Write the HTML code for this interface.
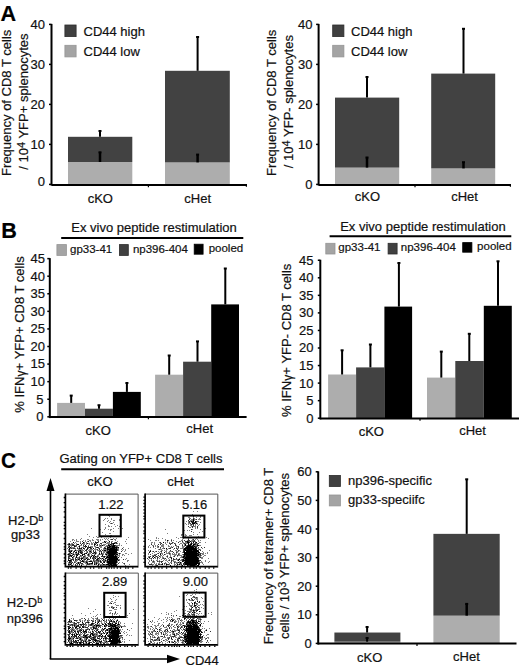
<!DOCTYPE html>
<html><head><meta charset="utf-8"><style>
html,body{margin:0;padding:0;background:#fff;overflow:hidden;}
svg{display:block;}
text{font-family:"Liberation Sans", sans-serif; fill:#111; stroke:#111; stroke-width:0.2px;}
.b{font-weight:bold;fill:#000;}
</style></head><body>
<svg width="520" height="668" viewBox="0 0 520 668">
<defs><filter id="soft" x="-5%" y="-5%" width="110%" height="110%"><feGaussianBlur stdDeviation="0.4"/></filter></defs>
<rect width="520" height="668" fill="#fff"/>
<text x="0.6" y="20.8" font-size="21.6" text-anchor="start" font-weight="bold" class="b">A</text>
<text x="1.2" y="237.6" font-size="21.6" text-anchor="start" font-weight="bold" class="b">B</text>
<text x="1.0" y="467.9" font-size="21.6" text-anchor="start" font-weight="bold" class="b" transform="translate(0.1,0) scale(0.96,1)">C</text>
<rect x="68.00" y="162.00" width="64.30" height="22.40" fill="#adadad"/>
<rect x="68.00" y="136.80" width="64.30" height="25.20" fill="#424242"/>
<line x1="100" y1="136.8" x2="100" y2="131" stroke="#000" stroke-width="2"/>
<line x1="98.5" y1="131" x2="101.5" y2="131" stroke="#000" stroke-width="2"/>
<line x1="100" y1="162.0" x2="100" y2="152.3" stroke="#000" stroke-width="2.5"/>
<line x1="98.5" y1="152.3" x2="101.5" y2="152.3" stroke="#000" stroke-width="2"/>
<rect x="165.00" y="162.40" width="64.80" height="22.00" fill="#adadad"/>
<rect x="165.00" y="70.80" width="64.80" height="91.60" fill="#424242"/>
<line x1="197.6" y1="70.80000000000001" x2="197.6" y2="37" stroke="#000" stroke-width="2"/>
<line x1="196.1" y1="37" x2="199.1" y2="37" stroke="#000" stroke-width="2"/>
<line x1="197.6" y1="162.4" x2="197.6" y2="154.6" stroke="#000" stroke-width="2.5"/>
<line x1="196.1" y1="154.6" x2="199.1" y2="154.6" stroke="#000" stroke-width="2"/>
<line x1="51.5" y1="184.9" x2="247" y2="184.9" stroke="#000" stroke-width="2"/>
<line x1="148.4" y1="184.9" x2="148.4" y2="187.2" stroke="#000" stroke-width="1.2"/>
<line x1="246.4" y1="184.9" x2="246.4" y2="186.8" stroke="#000" stroke-width="1.2"/>
<line x1="51.5" y1="23.9" x2="51.5" y2="185.5" stroke="#000" stroke-width="2"/>
<line x1="49.0" y1="24.400000000000006" x2="51.5" y2="24.400000000000006" stroke="#000" stroke-width="1.5"/>
<text x="45" y="29.000000000000007" font-size="13" text-anchor="end" font-weight="normal" >40</text>
<line x1="49.0" y1="64.4" x2="51.5" y2="64.4" stroke="#000" stroke-width="1.5"/>
<text x="45" y="69.0" font-size="13" text-anchor="end" font-weight="normal" >30</text>
<line x1="49.0" y1="104.4" x2="51.5" y2="104.4" stroke="#000" stroke-width="1.5"/>
<text x="45" y="109.0" font-size="13" text-anchor="end" font-weight="normal" >20</text>
<line x1="49.0" y1="144.4" x2="51.5" y2="144.4" stroke="#000" stroke-width="1.5"/>
<text x="45" y="149.0" font-size="13" text-anchor="end" font-weight="normal" >10</text>
<line x1="49.0" y1="184.4" x2="51.5" y2="184.4" stroke="#000" stroke-width="1.5"/>
<text x="45" y="186.0" font-size="13" text-anchor="end" font-weight="normal" >0</text>
<rect x="64.90" y="25.00" width="11.20" height="11.60" fill="#404040" stroke="#2c2c2c" stroke-width="0.8"/>
<rect x="64.90" y="45.30" width="11.20" height="11.60" fill="#a4a4a4" stroke="#959595" stroke-width="0.8"/>
<text x="83.5" y="36.3" font-size="13" text-anchor="start" font-weight="normal" >CD44 high</text>
<text x="83.5" y="55.8" font-size="13" text-anchor="start" font-weight="normal" >CD44 low</text>
<text x="100.3" y="203" font-size="13" text-anchor="middle" font-weight="normal" >cKO</text>
<text x="197.7" y="203" font-size="13" text-anchor="middle" font-weight="normal" >cHet</text>
<text transform="translate(10.8,102.8) rotate(-90)" font-size="13" text-anchor="middle" >Frequency of CD8 T cells</text>
<text transform="translate(27.6,101.6) rotate(-90)" font-size="13" text-anchor="middle" >/ 10<tspan font-size="11" dy="-2.5">4</tspan><tspan dy="2.5"> YFP+ splenocytes</tspan></text>
<rect x="335.00" y="167.60" width="64.20" height="16.80" fill="#adadad"/>
<rect x="335.00" y="97.60" width="64.20" height="70.00" fill="#424242"/>
<line x1="367" y1="97.60000000000001" x2="367" y2="77" stroke="#000" stroke-width="2"/>
<line x1="365.5" y1="77" x2="368.5" y2="77" stroke="#000" stroke-width="2"/>
<line x1="367" y1="167.6" x2="367" y2="157.5" stroke="#000" stroke-width="2.5"/>
<line x1="365.5" y1="157.5" x2="368.5" y2="157.5" stroke="#000" stroke-width="2"/>
<rect x="431.20" y="168.40" width="64.00" height="16.00" fill="#adadad"/>
<rect x="431.20" y="73.60" width="64.00" height="94.80" fill="#424242"/>
<line x1="463.5" y1="73.60000000000001" x2="463.5" y2="28.8" stroke="#000" stroke-width="2"/>
<line x1="462.0" y1="28.8" x2="465.0" y2="28.8" stroke="#000" stroke-width="2"/>
<line x1="463.5" y1="168.4" x2="463.5" y2="162.2" stroke="#000" stroke-width="2.5"/>
<line x1="462.0" y1="162.2" x2="465.0" y2="162.2" stroke="#000" stroke-width="2"/>
<line x1="318.6" y1="184.9" x2="511" y2="184.9" stroke="#000" stroke-width="2"/>
<line x1="415" y1="184.9" x2="415" y2="187.2" stroke="#000" stroke-width="1.2"/>
<line x1="510.4" y1="184.9" x2="510.4" y2="186.8" stroke="#000" stroke-width="1.2"/>
<line x1="318.6" y1="23.9" x2="318.6" y2="185.5" stroke="#000" stroke-width="2"/>
<line x1="316.1" y1="24.400000000000006" x2="318.6" y2="24.400000000000006" stroke="#000" stroke-width="1.5"/>
<text x="312.5" y="29.000000000000007" font-size="13" text-anchor="end" font-weight="normal" >40</text>
<line x1="316.1" y1="64.4" x2="318.6" y2="64.4" stroke="#000" stroke-width="1.5"/>
<text x="312.5" y="69.0" font-size="13" text-anchor="end" font-weight="normal" >30</text>
<line x1="316.1" y1="104.4" x2="318.6" y2="104.4" stroke="#000" stroke-width="1.5"/>
<text x="312.5" y="109.0" font-size="13" text-anchor="end" font-weight="normal" >20</text>
<line x1="316.1" y1="144.4" x2="318.6" y2="144.4" stroke="#000" stroke-width="1.5"/>
<text x="312.5" y="149.0" font-size="13" text-anchor="end" font-weight="normal" >10</text>
<line x1="316.1" y1="184.4" x2="318.6" y2="184.4" stroke="#000" stroke-width="1.5"/>
<text x="312.5" y="189.0" font-size="13" text-anchor="end" font-weight="normal" >0</text>
<rect x="332.70" y="25.00" width="11.20" height="11.60" fill="#404040" stroke="#2c2c2c" stroke-width="0.8"/>
<rect x="332.70" y="45.30" width="11.20" height="11.60" fill="#a4a4a4" stroke="#959595" stroke-width="0.8"/>
<text x="351" y="36.3" font-size="13" text-anchor="start" font-weight="normal" >CD44 high</text>
<text x="351" y="55.8" font-size="13" text-anchor="start" font-weight="normal" >CD44 low</text>
<text x="367.5" y="201.3" font-size="13" text-anchor="middle" font-weight="normal" >cKO</text>
<text x="464.6" y="201.2" font-size="13" text-anchor="middle" font-weight="normal" >cHet</text>
<text transform="translate(276.4,102.8) rotate(-90)" font-size="13" text-anchor="middle" >Frequency of CD8 T cells</text>
<text transform="translate(292.6,101.6) rotate(-90)" font-size="13" text-anchor="middle" >/ 10<tspan font-size="11" dy="-2.5">4</tspan><tspan dy="2.5"> YFP- splenocytes</tspan></text>
<rect x="57.10" y="402.90" width="27.90" height="13.90" fill="#adadad"/>
<line x1="71.2" y1="402.9" x2="71.2" y2="395.6" stroke="#000" stroke-width="2"/>
<line x1="69.7" y1="395.6" x2="72.7" y2="395.6" stroke="#000" stroke-width="2"/>
<rect x="85.00" y="408.70" width="27.90" height="8.10" fill="#424242"/>
<line x1="99" y1="408.7" x2="99" y2="405.2" stroke="#000" stroke-width="2"/>
<line x1="97.5" y1="405.2" x2="100.5" y2="405.2" stroke="#000" stroke-width="2"/>
<rect x="112.90" y="391.90" width="27.90" height="24.90" fill="#000"/>
<line x1="126.9" y1="391.9" x2="126.9" y2="383" stroke="#000" stroke-width="2"/>
<line x1="125.4" y1="383" x2="128.4" y2="383" stroke="#000" stroke-width="2"/>
<rect x="155.10" y="374.70" width="28.00" height="42.10" fill="#adadad"/>
<line x1="169.2" y1="374.7" x2="169.2" y2="355.5" stroke="#000" stroke-width="2"/>
<line x1="167.7" y1="355.5" x2="170.7" y2="355.5" stroke="#000" stroke-width="2"/>
<rect x="183.10" y="361.70" width="28.10" height="55.10" fill="#424242"/>
<line x1="197.5" y1="361.7" x2="197.5" y2="341.4" stroke="#000" stroke-width="2"/>
<line x1="196.0" y1="341.4" x2="199.0" y2="341.4" stroke="#000" stroke-width="2"/>
<rect x="211.20" y="304.40" width="27.80" height="112.40" fill="#000"/>
<line x1="225.3" y1="304.4" x2="225.3" y2="268.5" stroke="#000" stroke-width="2"/>
<line x1="223.8" y1="268.5" x2="226.8" y2="268.5" stroke="#000" stroke-width="2"/>
<line x1="49.8" y1="417.1" x2="246.6" y2="417.1" stroke="#000" stroke-width="2"/>
<line x1="148.4" y1="416.8" x2="148.4" y2="419.3" stroke="#000" stroke-width="1.2"/>
<line x1="49.8" y1="258.125" x2="49.8" y2="418.1" stroke="#000" stroke-width="2"/>
<line x1="47.3" y1="258.625" x2="49.8" y2="258.625" stroke="#000" stroke-width="1.5"/>
<text x="45" y="263.025" font-size="13" text-anchor="end" font-weight="normal" >45</text>
<line x1="47.3" y1="276.20000000000005" x2="49.8" y2="276.20000000000005" stroke="#000" stroke-width="1.5"/>
<text x="45" y="280.6" font-size="13" text-anchor="end" font-weight="normal" >40</text>
<line x1="47.3" y1="293.775" x2="49.8" y2="293.775" stroke="#000" stroke-width="1.5"/>
<text x="45" y="298.17499999999995" font-size="13" text-anchor="end" font-weight="normal" >35</text>
<line x1="47.3" y1="311.35" x2="49.8" y2="311.35" stroke="#000" stroke-width="1.5"/>
<text x="45" y="315.75" font-size="13" text-anchor="end" font-weight="normal" >30</text>
<line x1="47.3" y1="328.925" x2="49.8" y2="328.925" stroke="#000" stroke-width="1.5"/>
<text x="45" y="333.325" font-size="13" text-anchor="end" font-weight="normal" >25</text>
<line x1="47.3" y1="346.5" x2="49.8" y2="346.5" stroke="#000" stroke-width="1.5"/>
<text x="45" y="350.9" font-size="13" text-anchor="end" font-weight="normal" >20</text>
<line x1="47.3" y1="364.075" x2="49.8" y2="364.075" stroke="#000" stroke-width="1.5"/>
<text x="45" y="368.47499999999997" font-size="13" text-anchor="end" font-weight="normal" >15</text>
<line x1="47.3" y1="381.65000000000003" x2="49.8" y2="381.65000000000003" stroke="#000" stroke-width="1.5"/>
<text x="45" y="386.05" font-size="13" text-anchor="end" font-weight="normal" >10</text>
<line x1="47.3" y1="399.225" x2="49.8" y2="399.225" stroke="#000" stroke-width="1.5"/>
<text x="43.5" y="403.625" font-size="13" text-anchor="end" font-weight="normal" >5</text>
<line x1="47.3" y1="416.8" x2="49.8" y2="416.8" stroke="#000" stroke-width="1.5"/>
<text x="43.5" y="421.2" font-size="13" text-anchor="end" font-weight="normal" >0</text>
<text x="71.3" y="232.1" font-size="13" text-anchor="start" font-weight="normal" >Ex vivo peptide restimulation</text>
<line x1="61.2" y1="238" x2="243.3" y2="238" stroke="#000" stroke-width="2"/>
<rect x="56.90" y="244.60" width="9.50" height="10.80" fill="#a4a4a4" stroke="#959595" stroke-width="0.8"/>
<text x="70" y="252.8" font-size="11.5" text-anchor="start" font-weight="normal" >gp33-41</text>
<rect x="119.40" y="244.60" width="8.90" height="10.80" fill="#404040" stroke="#2c2c2c" stroke-width="0.8"/>
<text x="132.9" y="252.8" font-size="11.5" text-anchor="start" font-weight="normal" >np396-404</text>
<rect x="194.20" y="244.20" width="8.90" height="10.00" fill="#000" stroke="#000" stroke-width="0.8"/>
<text x="208.7" y="252.0" font-size="11.5" text-anchor="start" font-weight="normal" >pooled</text>
<text x="98.2" y="434.8" font-size="13" text-anchor="middle" font-weight="normal" >cKO</text>
<text x="199.7" y="432.6" font-size="13" text-anchor="middle" font-weight="normal" >cHet</text>
<text transform="translate(24.3,334.4) rotate(-90)" font-size="13" text-anchor="middle" >% IFN<tspan font-size="12" dy="0.5">γ</tspan><tspan dy="-0.5">+ YFP+ CD8 T cells</tspan></text>
<rect x="328.10" y="374.50" width="28.00" height="43.70" fill="#adadad"/>
<line x1="342.1" y1="374.5" x2="342.1" y2="350.3" stroke="#000" stroke-width="2"/>
<line x1="340.6" y1="350.3" x2="343.6" y2="350.3" stroke="#000" stroke-width="2"/>
<rect x="356.10" y="367.40" width="28.30" height="50.80" fill="#424242"/>
<line x1="370.4" y1="367.4" x2="370.4" y2="344.5" stroke="#000" stroke-width="2"/>
<line x1="368.9" y1="344.5" x2="371.9" y2="344.5" stroke="#000" stroke-width="2"/>
<rect x="384.40" y="306.60" width="27.70" height="111.60" fill="#000"/>
<line x1="398.9" y1="306.6" x2="398.9" y2="263" stroke="#000" stroke-width="2"/>
<line x1="397.4" y1="263" x2="400.4" y2="263" stroke="#000" stroke-width="2"/>
<rect x="427.00" y="377.60" width="28.30" height="40.60" fill="#adadad"/>
<line x1="441.3" y1="377.6" x2="441.3" y2="351.6" stroke="#000" stroke-width="2"/>
<line x1="439.8" y1="351.6" x2="442.8" y2="351.6" stroke="#000" stroke-width="2"/>
<rect x="455.30" y="361.00" width="28.50" height="57.20" fill="#424242"/>
<line x1="469.3" y1="361.0" x2="469.3" y2="333.8" stroke="#000" stroke-width="2"/>
<line x1="467.8" y1="333.8" x2="470.8" y2="333.8" stroke="#000" stroke-width="2"/>
<rect x="483.80" y="305.80" width="28.00" height="112.40" fill="#000"/>
<line x1="498" y1="305.8" x2="498" y2="261.3" stroke="#000" stroke-width="2"/>
<line x1="496.5" y1="261.3" x2="499.5" y2="261.3" stroke="#000" stroke-width="2"/>
<line x1="320.3" y1="418.5" x2="519" y2="418.5" stroke="#000" stroke-width="2"/>
<line x1="420" y1="418.2" x2="420" y2="420.7" stroke="#000" stroke-width="1.2"/>
<line x1="320.3" y1="259.75" x2="320.3" y2="419.5" stroke="#000" stroke-width="2"/>
<line x1="317.8" y1="260.25" x2="320.3" y2="260.25" stroke="#000" stroke-width="1.5"/>
<text x="313.5" y="264.65" font-size="13" text-anchor="end" font-weight="normal" >45</text>
<line x1="317.8" y1="277.8" x2="320.3" y2="277.8" stroke="#000" stroke-width="1.5"/>
<text x="313.5" y="282.2" font-size="13" text-anchor="end" font-weight="normal" >40</text>
<line x1="317.8" y1="295.35" x2="320.3" y2="295.35" stroke="#000" stroke-width="1.5"/>
<text x="313.5" y="299.75" font-size="13" text-anchor="end" font-weight="normal" >35</text>
<line x1="317.8" y1="312.9" x2="320.3" y2="312.9" stroke="#000" stroke-width="1.5"/>
<text x="313.5" y="317.29999999999995" font-size="13" text-anchor="end" font-weight="normal" >30</text>
<line x1="317.8" y1="330.45" x2="320.3" y2="330.45" stroke="#000" stroke-width="1.5"/>
<text x="313.5" y="334.84999999999997" font-size="13" text-anchor="end" font-weight="normal" >25</text>
<line x1="317.8" y1="348.0" x2="320.3" y2="348.0" stroke="#000" stroke-width="1.5"/>
<text x="313.5" y="352.4" font-size="13" text-anchor="end" font-weight="normal" >20</text>
<line x1="317.8" y1="365.55" x2="320.3" y2="365.55" stroke="#000" stroke-width="1.5"/>
<text x="313.5" y="369.95" font-size="13" text-anchor="end" font-weight="normal" >15</text>
<line x1="317.8" y1="383.1" x2="320.3" y2="383.1" stroke="#000" stroke-width="1.5"/>
<text x="313.5" y="387.5" font-size="13" text-anchor="end" font-weight="normal" >10</text>
<line x1="317.8" y1="400.65" x2="320.3" y2="400.65" stroke="#000" stroke-width="1.5"/>
<text x="313.5" y="405.04999999999995" font-size="13" text-anchor="end" font-weight="normal" >5</text>
<line x1="317.8" y1="418.2" x2="320.3" y2="418.2" stroke="#000" stroke-width="1.5"/>
<text x="313.5" y="422.59999999999997" font-size="13" text-anchor="end" font-weight="normal" >0</text>
<text x="340.2" y="230.8" font-size="13" text-anchor="start" font-weight="normal" >Ex vivo peptide restimulation</text>
<line x1="329.6" y1="236.2" x2="511.3" y2="236.2" stroke="#000" stroke-width="2"/>
<rect x="325.80" y="243.30" width="9.20" height="10.70" fill="#a4a4a4" stroke="#959595" stroke-width="0.8"/>
<text x="338.3" y="251.45000000000002" font-size="11.5" text-anchor="start" font-weight="normal" >gp33-41</text>
<rect x="388.10" y="243.30" width="9.00" height="10.70" fill="#404040" stroke="#2c2c2c" stroke-width="0.8"/>
<text x="400.8" y="251.45000000000002" font-size="11.5" text-anchor="start" font-weight="normal" >np396-404</text>
<rect x="462.70" y="242.60" width="9.20" height="9.60" fill="#000" stroke="#000" stroke-width="0.8"/>
<text x="477.1" y="250.2" font-size="11.5" text-anchor="start" font-weight="normal" >pooled</text>
<text x="371.3" y="435.8" font-size="13" text-anchor="middle" font-weight="normal" >cKO</text>
<text x="472.6" y="435.2" font-size="13" text-anchor="middle" font-weight="normal" >cHet</text>
<text transform="translate(291.3,340.3) rotate(-90)" font-size="13" text-anchor="middle" >% IFN<tspan font-size="12" dy="0.5">γ</tspan><tspan dy="-0.5">+ YFP- CD8 T cells</tspan></text>
<rect x="334.40" y="641.68" width="66.00" height="1.72" fill="#adadad"/>
<rect x="334.40" y="632.53" width="66.00" height="9.15" fill="#424242"/>
<line x1="367.1" y1="632.5319999999999" x2="367.1" y2="627" stroke="#000" stroke-width="2"/>
<line x1="365.6" y1="627" x2="368.6" y2="627" stroke="#000" stroke-width="2"/>
<line x1="367.1" y1="641.684" x2="367.1" y2="638" stroke="#000" stroke-width="2"/>
<line x1="365.6" y1="638" x2="368.6" y2="638" stroke="#000" stroke-width="2"/>
<rect x="433.40" y="615.66" width="66.30" height="27.74" fill="#adadad"/>
<rect x="433.40" y="533.86" width="66.30" height="81.80" fill="#424242"/>
<line x1="466.7" y1="533.862" x2="466.7" y2="479.3" stroke="#000" stroke-width="2"/>
<line x1="465.2" y1="479.3" x2="468.2" y2="479.3" stroke="#000" stroke-width="2"/>
<line x1="466.7" y1="615.658" x2="466.7" y2="603.9" stroke="#000" stroke-width="2.5"/>
<line x1="465.2" y1="603.9" x2="468.2" y2="603.9" stroke="#000" stroke-width="2"/>
<line x1="318.2" y1="643.6" x2="516.5" y2="643.6" stroke="#000" stroke-width="2"/>
<line x1="417" y1="643.6" x2="417" y2="646" stroke="#000" stroke-width="1.2"/>
<line x1="318.2" y1="471.29999999999995" x2="318.2" y2="644.6" stroke="#000" stroke-width="2"/>
<line x1="315.7" y1="471.79999999999995" x2="318.2" y2="471.79999999999995" stroke="#000" stroke-width="1.5"/>
<text x="311.8" y="476.4" font-size="13" text-anchor="end" font-weight="normal" >60</text>
<line x1="315.7" y1="500.4" x2="318.2" y2="500.4" stroke="#000" stroke-width="1.5"/>
<text x="311.8" y="505.0" font-size="13" text-anchor="end" font-weight="normal" >50</text>
<line x1="315.7" y1="529.0" x2="318.2" y2="529.0" stroke="#000" stroke-width="1.5"/>
<text x="311.8" y="533.6" font-size="13" text-anchor="end" font-weight="normal" >40</text>
<line x1="315.7" y1="557.6" x2="318.2" y2="557.6" stroke="#000" stroke-width="1.5"/>
<text x="311.8" y="562.2" font-size="13" text-anchor="end" font-weight="normal" >30</text>
<line x1="315.7" y1="586.1999999999999" x2="318.2" y2="586.1999999999999" stroke="#000" stroke-width="1.5"/>
<text x="311.8" y="590.8" font-size="13" text-anchor="end" font-weight="normal" >20</text>
<line x1="315.7" y1="614.8" x2="318.2" y2="614.8" stroke="#000" stroke-width="1.5"/>
<text x="311.8" y="619.4" font-size="13" text-anchor="end" font-weight="normal" >10</text>
<line x1="315.7" y1="643.4" x2="318.2" y2="643.4" stroke="#000" stroke-width="1.5"/>
<text x="311.8" y="648.0" font-size="13" text-anchor="end" font-weight="normal" >0</text>
<rect x="329.30" y="475.40" width="11.10" height="11.10" fill="#404040" stroke="#2c2c2c" stroke-width="0.8"/>
<rect x="329.30" y="495.00" width="11.10" height="10.90" fill="#a4a4a4" stroke="#959595" stroke-width="0.8"/>
<text x="348.1" y="485.3" font-size="13" text-anchor="start" font-weight="normal" >np396-specific</text>
<text x="348.1" y="503.8" font-size="13" text-anchor="start" font-weight="normal" >gp33-speciifc</text>
<text x="369.7" y="662.2" font-size="13" text-anchor="middle" font-weight="normal" >cKO</text>
<text x="466.4" y="661" font-size="13" text-anchor="middle" font-weight="normal" >cHet</text>
<text transform="translate(272.5,556) rotate(-90)" font-size="13" text-anchor="middle" >Frequency of tetramer+ CD8 T</text>
<text transform="translate(288.8,556) rotate(-90)" font-size="13" text-anchor="middle" >cells / 10<tspan font-size="11" dy="-2.5">3</tspan><tspan dy="2.5"> YFP+ splenocytes</tspan></text>
<text x="59.5" y="462.9" font-size="13" text-anchor="start" font-weight="normal" >Gating on YFP+ CD8 T cells</text>
<line x1="61.2" y1="469.3" x2="224" y2="469.3" stroke="#000" stroke-width="2"/>
<text x="100" y="485.9" font-size="13" text-anchor="middle" font-weight="normal" >cKO</text>
<text x="180.6" y="486" font-size="13" text-anchor="middle" font-weight="normal" >cHet</text>
<line x1="50.5" y1="489" x2="50.5" y2="659" stroke="#000" stroke-width="1.6"/>
<path d="M50.5,478 L46.5,491 L54.5,491 Z" fill="#000"/>
<line x1="49.7" y1="659" x2="169" y2="659" stroke="#000" stroke-width="1.6"/>
<path d="M180,659 L167,654.8 L167,663.2 Z" fill="#000"/>
<text x="185.6" y="664.6" font-size="13" text-anchor="start" font-weight="normal" >CD44</text>
<text x="8" y="524.5" font-size="13" text-anchor="start" font-weight="normal" >H2-D<tspan font-size="9" dy="-4">b</tspan></text>
<text x="11" y="539.4" font-size="13" text-anchor="start" font-weight="normal" >gp33</text>
<text x="6.8" y="607.3" font-size="13" text-anchor="start" font-weight="normal" >H2-D<tspan font-size="9" dy="-4">b</tspan></text>
<text x="6.8" y="622.9" font-size="13" text-anchor="start" font-weight="normal" >np396</text>
<path d="M65.3,494.1H138.1V567.6" fill="none" stroke="#555" stroke-width="1"/>
<path d="M65.39999999999999,493.6V566.7H138.1" fill="none" stroke="#000" stroke-width="1.7"/>
<path d="M63.7,497.5h1.5 M63.7,502.7h1.5 M63.7,507.3h1.5 M63.7,511.9h1.5 M63.7,517.1h1.5 M63.7,522.3h1.5 M63.7,525.5h1.5 M63.7,528.7h1.5 M63.7,533.9h1.5 M63.7,538.5h1.5 M63.7,543.7h1.5 M63.7,546.9h1.5 M63.7,549.4h1.5 M63.7,554.0h1.5 M63.7,557.8h1.5 M63.7,561.0h1.5 M63.7,563.5h1.5 M68.4,567.2v1.5 M70.9,567.2v1.5 M76.1,567.2v1.5 M80.7,567.2v1.5 M85.3,567.2v1.5 M90.5,567.2v1.5 M93.7,567.2v1.5 M98.9,567.2v1.5 M101.4,567.2v1.5 M106.6,567.2v1.5 M109.1,567.2v1.5 M111.6,567.2v1.5 M114.1,567.2v1.5 M117.3,567.2v1.5 M120.5,567.2v1.5 M125.7,567.2v1.5 M128.2,567.2v1.5 M132.8,567.2v1.5" stroke="#000" stroke-width="1.3" fill="none"/>
<g filter="url(#soft)">
<path d="M109,514h1v1h-1zM108,515h1v1h-1zM109,516h1v1h-1zM105,518h1v1h-1zM107,518h1v1h-1zM111,518h1v1h-1zM104,519h1v1h-1zM111,519h1v1h-1zM119,519h1v1h-1zM103,520h1v1h-1zM108,520h1v1h-1zM113,520h1v1h-1zM114,520h1v1h-1zM119,520h1v1h-1zM107,521h1v1h-1zM110,521h1v1h-1zM109,522h1v1h-1zM113,522h1v1h-1zM110,523h1v1h-1zM112,523h1v1h-1zM105,524h1v1h-1zM114,524h1v1h-1zM108,525h1v1h-1zM117,525h1v1h-1zM108,526h1v1h-1zM109,526h1v1h-1zM111,526h1v1h-1zM115,526h1v1h-1zM119,526h1v1h-1zM105,527h1v1h-1zM91,528h1v1h-1zM105,528h1v1h-1zM113,528h1v1h-1zM118,528h1v1h-1zM122,528h1v1h-1zM100,529h1v1h-1zM104,529h1v1h-1zM108,529h1v1h-1zM110,529h1v1h-1zM111,529h1v1h-1zM110,530h1v1h-1zM113,531h1v1h-1zM102,532h1v1h-1zM109,533h1v1h-1zM110,533h1v1h-1zM87,534h1v1h-1zM105,534h1v1h-1zM110,535h1v1h-1zM111,535h1v1h-1zM89,536h1v1h-1zM96,536h1v1h-1zM109,536h1v1h-1zM93,537h1v1h-1zM97,537h1v1h-1zM98,537h1v1h-1zM101,537h1v1h-1zM110,537h1v1h-1zM128,537h1v1h-1zM81,538h1v1h-1zM104,538h1v1h-1zM106,538h1v1h-1zM108,538h1v1h-1zM113,538h1v1h-1zM116,538h1v1h-1zM72,539h1v1h-1zM73,539h1v1h-1zM76,539h1v1h-1zM80,539h1v1h-1zM87,539h1v1h-1zM88,539h1v1h-1zM92,539h1v1h-1zM96,539h1v1h-1zM97,539h1v1h-1zM98,539h1v1h-1zM100,539h1v1h-1zM102,539h1v1h-1zM105,539h1v1h-1zM107,539h1v1h-1zM110,539h1v1h-1zM114,539h1v1h-1zM115,539h1v1h-1zM126,539h1v1h-1zM72,540h1v1h-1zM74,540h1v1h-1zM76,540h1v1h-1zM83,540h1v1h-1zM85,540h1v1h-1zM89,540h1v1h-1zM90,540h1v1h-1zM92,540h1v1h-1zM93,540h1v1h-1zM97,540h1v1h-1zM98,540h1v1h-1zM100,540h1v1h-1zM108,540h1v1h-1zM115,540h1v1h-1zM70,541h1v1h-1zM76,541h1v1h-1zM77,541h1v1h-1zM78,541h1v1h-1zM80,541h1v1h-1zM85,541h1v1h-1zM87,541h1v1h-1zM90,541h1v1h-1zM95,541h1v1h-1zM105,541h1v1h-1zM106,541h1v1h-1zM111,541h1v1h-1zM112,541h1v1h-1zM117,541h1v1h-1zM125,541h1v1h-1zM75,542h1v1h-1zM80,542h1v1h-1zM84,542h1v1h-1zM86,542h1v1h-1zM91,542h1v1h-1zM93,542h1v1h-1zM98,542h1v1h-1zM102,542h1v1h-1zM103,542h1v1h-1zM104,542h1v1h-1zM107,542h1v1h-1zM108,542h1v1h-1zM109,542h1v1h-1zM114,542h1v1h-1zM68,543h1v1h-1zM71,543h1v1h-1zM72,543h1v1h-1zM74,543h1v1h-1zM76,543h1v1h-1zM83,543h1v1h-1zM84,543h1v1h-1zM86,543h1v1h-1zM88,543h1v1h-1zM89,543h1v1h-1zM91,543h1v1h-1zM92,543h1v1h-1zM95,543h1v1h-1zM106,543h1v1h-1zM107,543h1v1h-1zM108,543h1v1h-1zM109,543h1v1h-1zM115,543h1v1h-1zM117,543h1v1h-1zM119,543h1v1h-1zM126,543h1v1h-1zM67,544h1v1h-1zM70,544h1v1h-1zM71,544h1v1h-1zM76,544h1v1h-1zM83,544h1v1h-1zM84,544h1v1h-1zM86,544h1v1h-1zM89,544h1v1h-1zM91,544h1v1h-1zM92,544h1v1h-1zM99,544h1v1h-1zM101,544h1v1h-1zM103,544h1v1h-1zM104,544h1v1h-1zM105,544h1v1h-1zM109,544h1v1h-1zM112,544h1v1h-1zM119,544h1v1h-1zM68,545h1v1h-1zM69,545h1v1h-1zM70,545h1v1h-1zM71,545h1v1h-1zM75,545h1v1h-1zM79,545h1v1h-1zM80,545h1v1h-1zM81,545h1v1h-1zM88,545h1v1h-1zM96,545h1v1h-1zM99,545h1v1h-1zM101,545h1v1h-1zM103,545h1v1h-1zM104,545h1v1h-1zM106,545h1v1h-1zM107,545h1v1h-1zM110,545h1v1h-1zM116,545h1v1h-1zM117,545h1v1h-1zM118,545h1v1h-1zM119,545h1v1h-1zM121,545h1v1h-1zM68,546h1v1h-1zM71,546h1v1h-1zM76,546h1v1h-1zM78,546h1v1h-1zM83,546h1v1h-1zM90,546h1v1h-1zM91,546h1v1h-1zM92,546h1v1h-1zM94,546h1v1h-1zM95,546h1v1h-1zM99,546h1v1h-1zM100,546h1v1h-1zM101,546h1v1h-1zM105,546h1v1h-1zM106,546h1v1h-1zM108,546h1v1h-1zM115,546h1v1h-1zM117,546h1v1h-1zM69,547h1v1h-1zM71,547h1v1h-1zM72,547h1v1h-1zM73,547h1v1h-1zM74,547h1v1h-1zM77,547h1v1h-1zM81,547h1v1h-1zM82,547h1v1h-1zM83,547h1v1h-1zM91,547h1v1h-1zM92,547h1v1h-1zM95,547h1v1h-1zM100,547h1v1h-1zM101,547h1v1h-1zM105,547h1v1h-1zM123,547h1v1h-1zM67,548h1v1h-1zM70,548h1v1h-1zM72,548h1v1h-1zM75,548h1v1h-1zM78,548h1v1h-1zM88,548h1v1h-1zM95,548h1v1h-1zM98,548h1v1h-1zM103,548h1v1h-1zM106,548h1v1h-1zM117,548h1v1h-1zM118,548h1v1h-1zM128,548h1v1h-1zM68,549h1v1h-1zM75,549h1v1h-1zM78,549h1v1h-1zM79,549h1v1h-1zM80,549h1v1h-1zM81,549h1v1h-1zM82,549h1v1h-1zM84,549h1v1h-1zM89,549h1v1h-1zM90,549h1v1h-1zM91,549h1v1h-1zM92,549h1v1h-1zM94,549h1v1h-1zM95,549h1v1h-1zM96,549h1v1h-1zM101,549h1v1h-1zM103,549h1v1h-1zM104,549h1v1h-1zM105,549h1v1h-1zM106,549h1v1h-1zM118,549h1v1h-1zM121,549h1v1h-1zM123,549h1v1h-1zM125,549h1v1h-1zM68,550h1v1h-1zM70,550h1v1h-1zM72,550h1v1h-1zM74,550h1v1h-1zM76,550h1v1h-1zM77,550h1v1h-1zM78,550h1v1h-1zM81,550h1v1h-1zM82,550h1v1h-1zM83,550h1v1h-1zM88,550h1v1h-1zM89,550h1v1h-1zM90,550h1v1h-1zM91,550h1v1h-1zM95,550h1v1h-1zM97,550h1v1h-1zM98,550h1v1h-1zM99,550h1v1h-1zM103,550h1v1h-1zM106,550h1v1h-1zM108,550h1v1h-1zM118,550h1v1h-1zM122,550h1v1h-1zM125,550h1v1h-1zM68,551h1v1h-1zM73,551h1v1h-1zM76,551h1v1h-1zM79,551h1v1h-1zM82,551h1v1h-1zM84,551h1v1h-1zM86,551h1v1h-1zM87,551h1v1h-1zM91,551h1v1h-1zM100,551h1v1h-1zM103,551h1v1h-1zM104,551h1v1h-1zM105,551h1v1h-1zM106,551h1v1h-1zM124,551h1v1h-1zM69,552h1v1h-1zM79,552h1v1h-1zM86,552h1v1h-1zM89,552h1v1h-1zM90,552h1v1h-1zM93,552h1v1h-1zM96,552h1v1h-1zM99,552h1v1h-1zM103,552h1v1h-1zM104,552h1v1h-1zM68,553h1v1h-1zM70,553h1v1h-1zM72,553h1v1h-1zM73,553h1v1h-1zM75,553h1v1h-1zM76,553h1v1h-1zM77,553h1v1h-1zM80,553h1v1h-1zM82,553h1v1h-1zM88,553h1v1h-1zM89,553h1v1h-1zM90,553h1v1h-1zM94,553h1v1h-1zM96,553h1v1h-1zM102,553h1v1h-1zM103,553h1v1h-1zM105,553h1v1h-1zM106,553h1v1h-1zM117,553h1v1h-1zM118,553h1v1h-1zM120,553h1v1h-1zM125,553h1v1h-1zM126,553h1v1h-1zM131,553h1v1h-1zM67,554h1v1h-1zM70,554h1v1h-1zM72,554h1v1h-1zM74,554h1v1h-1zM75,554h1v1h-1zM79,554h1v1h-1zM87,554h1v1h-1zM89,554h1v1h-1zM91,554h1v1h-1zM94,554h1v1h-1zM95,554h1v1h-1zM98,554h1v1h-1zM100,554h1v1h-1zM101,554h1v1h-1zM103,554h1v1h-1zM107,554h1v1h-1zM119,554h1v1h-1zM122,554h1v1h-1zM123,554h1v1h-1zM128,554h1v1h-1zM68,555h1v1h-1zM74,555h1v1h-1zM81,555h1v1h-1zM84,555h1v1h-1zM85,555h1v1h-1zM87,555h1v1h-1zM89,555h1v1h-1zM91,555h1v1h-1zM93,555h1v1h-1zM97,555h1v1h-1zM98,555h1v1h-1zM106,555h1v1h-1zM107,555h1v1h-1zM114,555h1v1h-1zM116,555h1v1h-1zM117,555h1v1h-1zM118,555h1v1h-1zM119,555h1v1h-1zM122,555h1v1h-1zM124,555h1v1h-1zM70,556h1v1h-1zM74,556h1v1h-1zM79,556h1v1h-1zM80,556h1v1h-1zM81,556h1v1h-1zM85,556h1v1h-1zM88,556h1v1h-1zM89,556h1v1h-1zM90,556h1v1h-1zM94,556h1v1h-1zM96,556h1v1h-1zM98,556h1v1h-1zM105,556h1v1h-1zM106,556h1v1h-1zM117,556h1v1h-1zM119,556h1v1h-1zM69,557h1v1h-1zM73,557h1v1h-1zM75,557h1v1h-1zM77,557h1v1h-1zM78,557h1v1h-1zM81,557h1v1h-1zM82,557h1v1h-1zM84,557h1v1h-1zM85,557h1v1h-1zM86,557h1v1h-1zM92,557h1v1h-1zM95,557h1v1h-1zM96,557h1v1h-1zM97,557h1v1h-1zM103,557h1v1h-1zM117,557h1v1h-1zM121,557h1v1h-1zM70,558h1v1h-1zM72,558h1v1h-1zM73,558h1v1h-1zM77,558h1v1h-1zM78,558h1v1h-1zM80,558h1v1h-1zM83,558h1v1h-1zM84,558h1v1h-1zM85,558h1v1h-1zM87,558h1v1h-1zM88,558h1v1h-1zM94,558h1v1h-1zM99,558h1v1h-1zM101,558h1v1h-1zM103,558h1v1h-1zM107,558h1v1h-1zM126,558h1v1h-1zM70,559h1v1h-1zM77,559h1v1h-1zM83,559h1v1h-1zM94,559h1v1h-1zM98,559h1v1h-1zM99,559h1v1h-1zM101,559h1v1h-1zM104,559h1v1h-1zM105,559h1v1h-1zM118,559h1v1h-1zM119,559h1v1h-1zM125,559h1v1h-1zM76,560h1v1h-1zM77,560h1v1h-1zM79,560h1v1h-1zM83,560h1v1h-1zM84,560h1v1h-1zM86,560h1v1h-1zM87,560h1v1h-1zM90,560h1v1h-1zM91,560h1v1h-1zM94,560h1v1h-1zM95,560h1v1h-1zM99,560h1v1h-1zM103,560h1v1h-1zM104,560h1v1h-1zM106,560h1v1h-1zM108,560h1v1h-1zM117,560h1v1h-1zM119,560h1v1h-1zM127,560h1v1h-1zM128,560h1v1h-1zM67,561h1v1h-1zM74,561h1v1h-1zM75,561h1v1h-1zM76,561h1v1h-1zM80,561h1v1h-1zM84,561h1v1h-1zM85,561h1v1h-1zM87,561h1v1h-1zM88,561h1v1h-1zM92,561h1v1h-1zM93,561h1v1h-1zM95,561h1v1h-1zM96,561h1v1h-1zM97,561h1v1h-1zM99,561h1v1h-1zM101,561h1v1h-1zM105,561h1v1h-1zM106,561h1v1h-1zM117,561h1v1h-1zM127,561h1v1h-1zM68,562h1v1h-1zM71,562h1v1h-1zM75,562h1v1h-1zM77,562h1v1h-1zM79,562h1v1h-1zM83,562h1v1h-1zM84,562h1v1h-1zM85,562h1v1h-1zM95,562h1v1h-1zM97,562h1v1h-1zM98,562h1v1h-1zM106,562h1v1h-1zM117,562h1v1h-1zM119,562h1v1h-1zM122,562h1v1h-1zM68,563h1v1h-1zM69,563h1v1h-1zM70,563h1v1h-1zM73,563h1v1h-1zM77,563h1v1h-1zM79,563h1v1h-1zM80,563h1v1h-1zM85,563h1v1h-1zM86,563h1v1h-1zM88,563h1v1h-1zM95,563h1v1h-1zM97,563h1v1h-1zM98,563h1v1h-1zM99,563h1v1h-1zM107,563h1v1h-1zM116,563h1v1h-1zM123,563h1v1h-1zM71,564h1v1h-1zM73,564h1v1h-1zM81,564h1v1h-1zM82,564h1v1h-1zM83,564h1v1h-1zM86,564h1v1h-1zM90,564h1v1h-1zM91,564h1v1h-1zM92,564h1v1h-1zM95,564h1v1h-1zM99,564h1v1h-1zM100,564h1v1h-1zM101,564h1v1h-1zM102,564h1v1h-1zM105,564h1v1h-1zM117,564h1v1h-1zM124,564h1v1h-1zM129,564h1v1h-1zM68,565h1v1h-1zM69,565h1v1h-1zM76,565h1v1h-1zM77,565h1v1h-1zM79,565h1v1h-1zM86,565h1v1h-1zM97,565h1v1h-1zM101,565h1v1h-1zM102,565h1v1h-1zM103,565h1v1h-1zM104,565h1v1h-1zM105,565h1v1h-1zM106,565h1v1h-1zM107,565h1v1h-1zM125,565h1v1h-1z" fill="#000" fill-opacity="0.5"/>
<path d="M111,523h1v1h-1zM111,539h1v1h-1zM112,539h1v1h-1zM82,541h1v1h-1zM88,541h1v1h-1zM98,541h1v1h-1zM96,542h1v1h-1zM111,542h1v1h-1zM115,542h1v1h-1zM116,542h1v1h-1zM69,543h1v1h-1zM80,543h1v1h-1zM82,543h1v1h-1zM94,543h1v1h-1zM96,543h1v1h-1zM100,543h1v1h-1zM101,543h1v1h-1zM111,543h1v1h-1zM112,543h1v1h-1zM116,543h1v1h-1zM68,544h1v1h-1zM72,544h1v1h-1zM73,544h1v1h-1zM81,544h1v1h-1zM95,544h1v1h-1zM97,544h1v1h-1zM108,544h1v1h-1zM111,544h1v1h-1zM72,545h1v1h-1zM73,545h1v1h-1zM74,545h1v1h-1zM76,545h1v1h-1zM83,545h1v1h-1zM94,545h1v1h-1zM97,545h1v1h-1zM100,545h1v1h-1zM111,545h1v1h-1zM112,545h1v1h-1zM115,545h1v1h-1zM75,546h1v1h-1zM84,546h1v1h-1zM85,546h1v1h-1zM88,546h1v1h-1zM107,546h1v1h-1zM111,546h1v1h-1zM116,546h1v1h-1zM68,547h1v1h-1zM79,547h1v1h-1zM85,547h1v1h-1zM87,547h1v1h-1zM88,547h1v1h-1zM96,547h1v1h-1zM98,547h1v1h-1zM104,547h1v1h-1zM110,547h1v1h-1zM111,547h1v1h-1zM117,547h1v1h-1zM71,548h1v1h-1zM73,548h1v1h-1zM74,548h1v1h-1zM77,548h1v1h-1zM80,548h1v1h-1zM84,548h1v1h-1zM90,548h1v1h-1zM91,548h1v1h-1zM99,548h1v1h-1zM104,548h1v1h-1zM108,548h1v1h-1zM109,548h1v1h-1zM115,548h1v1h-1zM122,548h1v1h-1zM86,549h1v1h-1zM87,549h1v1h-1zM97,549h1v1h-1zM99,549h1v1h-1zM117,549h1v1h-1zM69,550h1v1h-1zM71,550h1v1h-1zM79,550h1v1h-1zM85,550h1v1h-1zM86,550h1v1h-1zM93,550h1v1h-1zM100,550h1v1h-1zM102,550h1v1h-1zM107,550h1v1h-1zM117,550h1v1h-1zM70,551h1v1h-1zM80,551h1v1h-1zM81,551h1v1h-1zM89,551h1v1h-1zM93,551h1v1h-1zM95,551h1v1h-1zM99,551h1v1h-1zM101,551h1v1h-1zM107,551h1v1h-1zM121,551h1v1h-1zM73,552h1v1h-1zM75,552h1v1h-1zM78,552h1v1h-1zM81,552h1v1h-1zM82,552h1v1h-1zM87,552h1v1h-1zM91,552h1v1h-1zM95,552h1v1h-1zM101,552h1v1h-1zM106,552h1v1h-1zM117,552h1v1h-1zM69,553h1v1h-1zM84,553h1v1h-1zM85,553h1v1h-1zM92,553h1v1h-1zM93,553h1v1h-1zM107,553h1v1h-1zM116,553h1v1h-1zM69,554h1v1h-1zM77,554h1v1h-1zM78,554h1v1h-1zM83,554h1v1h-1zM99,554h1v1h-1zM102,554h1v1h-1zM105,554h1v1h-1zM108,554h1v1h-1zM115,554h1v1h-1zM69,555h1v1h-1zM71,555h1v1h-1zM72,555h1v1h-1zM76,555h1v1h-1zM80,555h1v1h-1zM88,555h1v1h-1zM68,556h1v1h-1zM69,556h1v1h-1zM73,556h1v1h-1zM83,556h1v1h-1zM84,556h1v1h-1zM97,556h1v1h-1zM101,556h1v1h-1zM102,556h1v1h-1zM103,556h1v1h-1zM108,556h1v1h-1zM68,557h1v1h-1zM79,557h1v1h-1zM83,557h1v1h-1zM87,557h1v1h-1zM93,557h1v1h-1zM94,557h1v1h-1zM104,557h1v1h-1zM68,558h1v1h-1zM69,558h1v1h-1zM75,558h1v1h-1zM79,558h1v1h-1zM90,558h1v1h-1zM92,558h1v1h-1zM93,558h1v1h-1zM97,558h1v1h-1zM100,558h1v1h-1zM106,558h1v1h-1zM108,558h1v1h-1zM68,559h1v1h-1zM71,559h1v1h-1zM72,559h1v1h-1zM73,559h1v1h-1zM75,559h1v1h-1zM76,559h1v1h-1zM79,559h1v1h-1zM84,559h1v1h-1zM85,559h1v1h-1zM88,559h1v1h-1zM89,559h1v1h-1zM93,559h1v1h-1zM96,559h1v1h-1zM123,559h1v1h-1zM71,560h1v1h-1zM73,560h1v1h-1zM75,560h1v1h-1zM80,560h1v1h-1zM93,560h1v1h-1zM96,560h1v1h-1zM97,560h1v1h-1zM98,560h1v1h-1zM100,560h1v1h-1zM102,560h1v1h-1zM69,561h1v1h-1zM70,561h1v1h-1zM71,561h1v1h-1zM81,561h1v1h-1zM86,561h1v1h-1zM94,561h1v1h-1zM98,561h1v1h-1zM103,561h1v1h-1zM104,561h1v1h-1zM70,562h1v1h-1zM72,562h1v1h-1zM74,562h1v1h-1zM87,562h1v1h-1zM94,562h1v1h-1zM96,562h1v1h-1zM100,562h1v1h-1zM101,562h1v1h-1zM103,562h1v1h-1zM76,563h1v1h-1zM81,563h1v1h-1zM82,563h1v1h-1zM89,563h1v1h-1zM90,563h1v1h-1zM94,563h1v1h-1zM118,563h1v1h-1zM124,563h1v1h-1zM69,564h1v1h-1zM75,564h1v1h-1zM77,564h1v1h-1zM87,564h1v1h-1zM88,564h1v1h-1zM89,564h1v1h-1zM96,564h1v1h-1zM104,564h1v1h-1zM109,564h1v1h-1zM112,564h1v1h-1zM116,564h1v1h-1zM71,565h1v1h-1zM72,565h1v1h-1zM75,565h1v1h-1zM98,565h1v1h-1zM100,565h1v1h-1zM108,565h1v1h-1zM110,565h1v1h-1z" fill="#000" fill-opacity="0.8"/>
<path d="M104,541h1v1h-1zM109,541h1v1h-1zM73,542h1v1h-1zM83,542h1v1h-1zM95,542h1v1h-1zM97,542h1v1h-1zM105,542h1v1h-1zM87,543h1v1h-1zM113,543h1v1h-1zM114,543h1v1h-1zM69,544h1v1h-1zM77,544h1v1h-1zM78,544h1v1h-1zM94,544h1v1h-1zM110,544h1v1h-1zM113,544h1v1h-1zM85,545h1v1h-1zM102,545h1v1h-1zM108,545h1v1h-1zM109,545h1v1h-1zM113,545h1v1h-1zM114,545h1v1h-1zM69,546h1v1h-1zM74,546h1v1h-1zM79,546h1v1h-1zM86,546h1v1h-1zM109,546h1v1h-1zM110,546h1v1h-1zM112,546h1v1h-1zM113,546h1v1h-1zM114,546h1v1h-1zM70,547h1v1h-1zM89,547h1v1h-1zM90,547h1v1h-1zM97,547h1v1h-1zM107,547h1v1h-1zM108,547h1v1h-1zM109,547h1v1h-1zM112,547h1v1h-1zM113,547h1v1h-1zM114,547h1v1h-1zM115,547h1v1h-1zM116,547h1v1h-1zM118,547h1v1h-1zM69,548h1v1h-1zM79,548h1v1h-1zM81,548h1v1h-1zM83,548h1v1h-1zM87,548h1v1h-1zM93,548h1v1h-1zM105,548h1v1h-1zM107,548h1v1h-1zM110,548h1v1h-1zM111,548h1v1h-1zM112,548h1v1h-1zM113,548h1v1h-1zM114,548h1v1h-1zM116,548h1v1h-1zM69,549h1v1h-1zM107,549h1v1h-1zM108,549h1v1h-1zM109,549h1v1h-1zM110,549h1v1h-1zM111,549h1v1h-1zM112,549h1v1h-1zM113,549h1v1h-1zM114,549h1v1h-1zM115,549h1v1h-1zM116,549h1v1h-1zM75,550h1v1h-1zM80,550h1v1h-1zM104,550h1v1h-1zM105,550h1v1h-1zM109,550h1v1h-1zM110,550h1v1h-1zM111,550h1v1h-1zM112,550h1v1h-1zM113,550h1v1h-1zM114,550h1v1h-1zM115,550h1v1h-1zM116,550h1v1h-1zM69,551h1v1h-1zM71,551h1v1h-1zM74,551h1v1h-1zM78,551h1v1h-1zM90,551h1v1h-1zM108,551h1v1h-1zM109,551h1v1h-1zM110,551h1v1h-1zM111,551h1v1h-1zM112,551h1v1h-1zM113,551h1v1h-1zM114,551h1v1h-1zM115,551h1v1h-1zM116,551h1v1h-1zM70,552h1v1h-1zM76,552h1v1h-1zM80,552h1v1h-1zM94,552h1v1h-1zM107,552h1v1h-1zM108,552h1v1h-1zM109,552h1v1h-1zM110,552h1v1h-1zM111,552h1v1h-1zM112,552h1v1h-1zM113,552h1v1h-1zM114,552h1v1h-1zM115,552h1v1h-1zM116,552h1v1h-1zM71,553h1v1h-1zM78,553h1v1h-1zM81,553h1v1h-1zM86,553h1v1h-1zM95,553h1v1h-1zM99,553h1v1h-1zM101,553h1v1h-1zM108,553h1v1h-1zM109,553h1v1h-1zM110,553h1v1h-1zM111,553h1v1h-1zM112,553h1v1h-1zM113,553h1v1h-1zM114,553h1v1h-1zM115,553h1v1h-1zM119,553h1v1h-1zM68,554h1v1h-1zM73,554h1v1h-1zM76,554h1v1h-1zM82,554h1v1h-1zM84,554h1v1h-1zM88,554h1v1h-1zM106,554h1v1h-1zM109,554h1v1h-1zM110,554h1v1h-1zM111,554h1v1h-1zM112,554h1v1h-1zM113,554h1v1h-1zM114,554h1v1h-1zM116,554h1v1h-1zM117,554h1v1h-1zM70,555h1v1h-1zM77,555h1v1h-1zM82,555h1v1h-1zM92,555h1v1h-1zM94,555h1v1h-1zM102,555h1v1h-1zM108,555h1v1h-1zM109,555h1v1h-1zM110,555h1v1h-1zM111,555h1v1h-1zM112,555h1v1h-1zM113,555h1v1h-1zM115,555h1v1h-1zM71,556h1v1h-1zM76,556h1v1h-1zM91,556h1v1h-1zM93,556h1v1h-1zM95,556h1v1h-1zM104,556h1v1h-1zM107,556h1v1h-1zM109,556h1v1h-1zM110,556h1v1h-1zM111,556h1v1h-1zM112,556h1v1h-1zM113,556h1v1h-1zM114,556h1v1h-1zM115,556h1v1h-1zM116,556h1v1h-1zM72,557h1v1h-1zM76,557h1v1h-1zM90,557h1v1h-1zM99,557h1v1h-1zM106,557h1v1h-1zM107,557h1v1h-1zM108,557h1v1h-1zM109,557h1v1h-1zM110,557h1v1h-1zM111,557h1v1h-1zM112,557h1v1h-1zM113,557h1v1h-1zM114,557h1v1h-1zM115,557h1v1h-1zM116,557h1v1h-1zM118,557h1v1h-1zM81,558h1v1h-1zM82,558h1v1h-1zM86,558h1v1h-1zM95,558h1v1h-1zM98,558h1v1h-1zM102,558h1v1h-1zM105,558h1v1h-1zM109,558h1v1h-1zM110,558h1v1h-1zM111,558h1v1h-1zM112,558h1v1h-1zM113,558h1v1h-1zM114,558h1v1h-1zM115,558h1v1h-1zM116,558h1v1h-1zM117,558h1v1h-1zM78,559h1v1h-1zM81,559h1v1h-1zM87,559h1v1h-1zM97,559h1v1h-1zM103,559h1v1h-1zM107,559h1v1h-1zM108,559h1v1h-1zM109,559h1v1h-1zM110,559h1v1h-1zM111,559h1v1h-1zM112,559h1v1h-1zM113,559h1v1h-1zM114,559h1v1h-1zM115,559h1v1h-1zM116,559h1v1h-1zM117,559h1v1h-1zM68,560h1v1h-1zM69,560h1v1h-1zM70,560h1v1h-1zM82,560h1v1h-1zM105,560h1v1h-1zM107,560h1v1h-1zM109,560h1v1h-1zM110,560h1v1h-1zM111,560h1v1h-1zM112,560h1v1h-1zM113,560h1v1h-1zM114,560h1v1h-1zM115,560h1v1h-1zM116,560h1v1h-1zM118,560h1v1h-1zM82,561h1v1h-1zM83,561h1v1h-1zM89,561h1v1h-1zM90,561h1v1h-1zM91,561h1v1h-1zM100,561h1v1h-1zM107,561h1v1h-1zM108,561h1v1h-1zM109,561h1v1h-1zM110,561h1v1h-1zM111,561h1v1h-1zM112,561h1v1h-1zM113,561h1v1h-1zM114,561h1v1h-1zM115,561h1v1h-1zM116,561h1v1h-1zM69,562h1v1h-1zM78,562h1v1h-1zM80,562h1v1h-1zM86,562h1v1h-1zM92,562h1v1h-1zM104,562h1v1h-1zM107,562h1v1h-1zM108,562h1v1h-1zM109,562h1v1h-1zM110,562h1v1h-1zM111,562h1v1h-1zM112,562h1v1h-1zM113,562h1v1h-1zM114,562h1v1h-1zM115,562h1v1h-1zM116,562h1v1h-1zM71,563h1v1h-1zM78,563h1v1h-1zM87,563h1v1h-1zM91,563h1v1h-1zM92,563h1v1h-1zM96,563h1v1h-1zM102,563h1v1h-1zM108,563h1v1h-1zM109,563h1v1h-1zM110,563h1v1h-1zM111,563h1v1h-1zM112,563h1v1h-1zM113,563h1v1h-1zM114,563h1v1h-1zM115,563h1v1h-1zM68,564h1v1h-1zM70,564h1v1h-1zM79,564h1v1h-1zM94,564h1v1h-1zM98,564h1v1h-1zM103,564h1v1h-1zM106,564h1v1h-1zM107,564h1v1h-1zM108,564h1v1h-1zM110,564h1v1h-1zM111,564h1v1h-1zM113,564h1v1h-1zM114,564h1v1h-1zM115,564h1v1h-1zM81,565h1v1h-1zM109,565h1v1h-1zM111,565h1v1h-1zM112,565h1v1h-1zM113,565h1v1h-1zM114,565h1v1h-1zM115,565h1v1h-1zM116,565h1v1h-1z" fill="#000" fill-opacity="1.0"/>
</g>
<rect x="99.5" y="514.8" width="21.299999999999997" height="21.5" fill="none" stroke="#000" stroke-width="2"/>
<text x="110.95" y="508.49999999999994" font-size="13" text-anchor="middle" font-weight="normal" >1.22</text>
<path d="M65.3,573.1H138.3V645.8" fill="none" stroke="#555" stroke-width="1"/>
<path d="M65.39999999999999,572.6V644.9H138.3" fill="none" stroke="#000" stroke-width="1.7"/>
<path d="M63.7,576.5h1.5 M63.7,581.7h1.5 M63.7,585.5h1.5 M63.7,588.7h1.5 M63.7,593.3h1.5 M63.7,595.8h1.5 M63.7,599.6h1.5 M63.7,604.2h1.5 M63.7,608.0h1.5 M63.7,612.6h1.5 M63.7,617.8h1.5 M63.7,621.0h1.5 M63.7,626.2h1.5 M63.7,628.7h1.5 M63.7,633.9h1.5 M63.7,637.1h1.5 M63.7,641.7h1.5 M67.1,645.4v1.5 M70.3,645.4v1.5 M72.8,645.4v1.5 M78.0,645.4v1.5 M81.2,645.4v1.5 M83.7,645.4v1.5 M88.9,645.4v1.5 M92.7,645.4v1.5 M97.3,645.4v1.5 M99.8,645.4v1.5 M102.3,645.4v1.5 M104.8,645.4v1.5 M110.0,645.4v1.5 M113.2,645.4v1.5 M115.7,645.4v1.5 M120.3,645.4v1.5 M124.9,645.4v1.5 M127.4,645.4v1.5 M132.0,645.4v1.5 M135.2,645.4v1.5" stroke="#000" stroke-width="1.3" fill="none"/>
<g filter="url(#soft)">
<path d="M113,595h1v1h-1zM104,596h1v1h-1zM115,596h1v1h-1zM118,596h1v1h-1zM113,597h1v1h-1zM110,598h1v1h-1zM111,599h1v1h-1zM116,599h1v1h-1zM115,600h1v1h-1zM108,601h1v1h-1zM111,601h1v1h-1zM112,601h1v1h-1zM110,602h1v1h-1zM114,602h1v1h-1zM115,602h1v1h-1zM109,603h1v1h-1zM110,603h1v1h-1zM113,603h1v1h-1zM115,604h1v1h-1zM107,605h1v1h-1zM108,605h1v1h-1zM116,605h1v1h-1zM117,605h1v1h-1zM118,605h1v1h-1zM120,605h1v1h-1zM104,606h1v1h-1zM111,606h1v1h-1zM112,606h1v1h-1zM109,607h1v1h-1zM112,607h1v1h-1zM114,607h1v1h-1zM120,607h1v1h-1zM88,608h1v1h-1zM104,608h1v1h-1zM112,608h1v1h-1zM120,608h1v1h-1zM95,609h1v1h-1zM114,609h1v1h-1zM115,609h1v1h-1zM116,609h1v1h-1zM133,609h1v1h-1zM109,610h1v1h-1zM110,610h1v1h-1zM111,610h1v1h-1zM93,611h1v1h-1zM115,611h1v1h-1zM110,612h1v1h-1zM81,613h1v1h-1zM90,613h1v1h-1zM109,613h1v1h-1zM110,613h1v1h-1zM114,613h1v1h-1zM115,613h1v1h-1zM117,613h1v1h-1zM129,613h1v1h-1zM97,614h1v1h-1zM100,614h1v1h-1zM112,614h1v1h-1zM114,614h1v1h-1zM116,614h1v1h-1zM72,615h1v1h-1zM85,615h1v1h-1zM96,615h1v1h-1zM112,615h1v1h-1zM119,615h1v1h-1zM127,615h1v1h-1zM93,616h1v1h-1zM95,616h1v1h-1zM105,616h1v1h-1zM119,616h1v1h-1zM91,617h1v1h-1zM97,617h1v1h-1zM106,617h1v1h-1zM111,617h1v1h-1zM113,617h1v1h-1zM118,617h1v1h-1zM124,617h1v1h-1zM127,617h1v1h-1zM71,618h1v1h-1zM73,618h1v1h-1zM81,618h1v1h-1zM82,618h1v1h-1zM88,618h1v1h-1zM92,618h1v1h-1zM93,618h1v1h-1zM95,618h1v1h-1zM96,618h1v1h-1zM101,618h1v1h-1zM103,618h1v1h-1zM104,618h1v1h-1zM109,618h1v1h-1zM113,618h1v1h-1zM115,618h1v1h-1zM73,619h1v1h-1zM79,619h1v1h-1zM80,619h1v1h-1zM88,619h1v1h-1zM93,619h1v1h-1zM96,619h1v1h-1zM97,619h1v1h-1zM98,619h1v1h-1zM99,619h1v1h-1zM104,619h1v1h-1zM106,619h1v1h-1zM108,619h1v1h-1zM112,619h1v1h-1zM114,619h1v1h-1zM117,619h1v1h-1zM70,620h1v1h-1zM71,620h1v1h-1zM77,620h1v1h-1zM79,620h1v1h-1zM80,620h1v1h-1zM82,620h1v1h-1zM84,620h1v1h-1zM85,620h1v1h-1zM88,620h1v1h-1zM89,620h1v1h-1zM92,620h1v1h-1zM93,620h1v1h-1zM97,620h1v1h-1zM98,620h1v1h-1zM101,620h1v1h-1zM104,620h1v1h-1zM108,620h1v1h-1zM109,620h1v1h-1zM110,620h1v1h-1zM113,620h1v1h-1zM116,620h1v1h-1zM70,621h1v1h-1zM76,621h1v1h-1zM82,621h1v1h-1zM84,621h1v1h-1zM87,621h1v1h-1zM88,621h1v1h-1zM95,621h1v1h-1zM97,621h1v1h-1zM100,621h1v1h-1zM101,621h1v1h-1zM104,621h1v1h-1zM105,621h1v1h-1zM106,621h1v1h-1zM112,621h1v1h-1zM118,621h1v1h-1zM119,621h1v1h-1zM67,622h1v1h-1zM68,622h1v1h-1zM69,622h1v1h-1zM71,622h1v1h-1zM72,622h1v1h-1zM73,622h1v1h-1zM79,622h1v1h-1zM85,622h1v1h-1zM89,622h1v1h-1zM92,622h1v1h-1zM97,622h1v1h-1zM101,622h1v1h-1zM104,622h1v1h-1zM112,622h1v1h-1zM113,622h1v1h-1zM115,622h1v1h-1zM116,622h1v1h-1zM120,622h1v1h-1zM68,623h1v1h-1zM73,623h1v1h-1zM78,623h1v1h-1zM82,623h1v1h-1zM88,623h1v1h-1zM94,623h1v1h-1zM99,623h1v1h-1zM101,623h1v1h-1zM102,623h1v1h-1zM104,623h1v1h-1zM107,623h1v1h-1zM111,623h1v1h-1zM120,623h1v1h-1zM124,623h1v1h-1zM132,623h1v1h-1zM67,624h1v1h-1zM69,624h1v1h-1zM70,624h1v1h-1zM73,624h1v1h-1zM75,624h1v1h-1zM76,624h1v1h-1zM78,624h1v1h-1zM79,624h1v1h-1zM85,624h1v1h-1zM86,624h1v1h-1zM88,624h1v1h-1zM89,624h1v1h-1zM93,624h1v1h-1zM96,624h1v1h-1zM97,624h1v1h-1zM98,624h1v1h-1zM99,624h1v1h-1zM69,625h1v1h-1zM71,625h1v1h-1zM73,625h1v1h-1zM75,625h1v1h-1zM76,625h1v1h-1zM80,625h1v1h-1zM85,625h1v1h-1zM86,625h1v1h-1zM88,625h1v1h-1zM89,625h1v1h-1zM92,625h1v1h-1zM93,625h1v1h-1zM95,625h1v1h-1zM101,625h1v1h-1zM105,625h1v1h-1zM107,625h1v1h-1zM108,625h1v1h-1zM109,625h1v1h-1zM118,625h1v1h-1zM119,625h1v1h-1zM120,625h1v1h-1zM124,625h1v1h-1zM67,626h1v1h-1zM72,626h1v1h-1zM75,626h1v1h-1zM79,626h1v1h-1zM80,626h1v1h-1zM84,626h1v1h-1zM85,626h1v1h-1zM92,626h1v1h-1zM94,626h1v1h-1zM95,626h1v1h-1zM97,626h1v1h-1zM98,626h1v1h-1zM100,626h1v1h-1zM102,626h1v1h-1zM106,626h1v1h-1zM116,626h1v1h-1zM117,626h1v1h-1zM119,626h1v1h-1zM120,626h1v1h-1zM122,626h1v1h-1zM123,626h1v1h-1zM124,626h1v1h-1zM125,626h1v1h-1zM73,627h1v1h-1zM84,627h1v1h-1zM90,627h1v1h-1zM91,627h1v1h-1zM92,627h1v1h-1zM95,627h1v1h-1zM105,627h1v1h-1zM110,627h1v1h-1zM112,627h1v1h-1zM114,627h1v1h-1zM118,627h1v1h-1zM71,628h1v1h-1zM72,628h1v1h-1zM73,628h1v1h-1zM76,628h1v1h-1zM78,628h1v1h-1zM79,628h1v1h-1zM87,628h1v1h-1zM88,628h1v1h-1zM90,628h1v1h-1zM91,628h1v1h-1zM97,628h1v1h-1zM131,628h1v1h-1zM70,629h1v1h-1zM71,629h1v1h-1zM73,629h1v1h-1zM74,629h1v1h-1zM76,629h1v1h-1zM77,629h1v1h-1zM79,629h1v1h-1zM81,629h1v1h-1zM82,629h1v1h-1zM83,629h1v1h-1zM85,629h1v1h-1zM88,629h1v1h-1zM91,629h1v1h-1zM93,629h1v1h-1zM95,629h1v1h-1zM96,629h1v1h-1zM98,629h1v1h-1zM101,629h1v1h-1zM102,629h1v1h-1zM104,629h1v1h-1zM108,629h1v1h-1zM113,629h1v1h-1zM116,629h1v1h-1zM119,629h1v1h-1zM120,629h1v1h-1zM122,629h1v1h-1zM67,630h1v1h-1zM68,630h1v1h-1zM72,630h1v1h-1zM74,630h1v1h-1zM75,630h1v1h-1zM77,630h1v1h-1zM78,630h1v1h-1zM89,630h1v1h-1zM92,630h1v1h-1zM102,630h1v1h-1zM103,630h1v1h-1zM108,630h1v1h-1zM120,630h1v1h-1zM129,630h1v1h-1zM70,631h1v1h-1zM72,631h1v1h-1zM79,631h1v1h-1zM82,631h1v1h-1zM88,631h1v1h-1zM90,631h1v1h-1zM93,631h1v1h-1zM96,631h1v1h-1zM99,631h1v1h-1zM108,631h1v1h-1zM110,631h1v1h-1zM121,631h1v1h-1zM124,631h1v1h-1zM70,632h1v1h-1zM71,632h1v1h-1zM72,632h1v1h-1zM77,632h1v1h-1zM80,632h1v1h-1zM85,632h1v1h-1zM88,632h1v1h-1zM89,632h1v1h-1zM92,632h1v1h-1zM97,632h1v1h-1zM100,632h1v1h-1zM105,632h1v1h-1zM106,632h1v1h-1zM108,632h1v1h-1zM120,632h1v1h-1zM123,632h1v1h-1zM126,632h1v1h-1zM72,633h1v1h-1zM74,633h1v1h-1zM75,633h1v1h-1zM80,633h1v1h-1zM82,633h1v1h-1zM85,633h1v1h-1zM90,633h1v1h-1zM93,633h1v1h-1zM94,633h1v1h-1zM95,633h1v1h-1zM96,633h1v1h-1zM97,633h1v1h-1zM100,633h1v1h-1zM102,633h1v1h-1zM103,633h1v1h-1zM124,633h1v1h-1zM67,634h1v1h-1zM73,634h1v1h-1zM78,634h1v1h-1zM80,634h1v1h-1zM81,634h1v1h-1zM83,634h1v1h-1zM86,634h1v1h-1zM88,634h1v1h-1zM91,634h1v1h-1zM95,634h1v1h-1zM97,634h1v1h-1zM100,634h1v1h-1zM108,634h1v1h-1zM127,634h1v1h-1zM69,635h1v1h-1zM80,635h1v1h-1zM87,635h1v1h-1zM89,635h1v1h-1zM94,635h1v1h-1zM95,635h1v1h-1zM96,635h1v1h-1zM97,635h1v1h-1zM98,635h1v1h-1zM119,635h1v1h-1zM122,635h1v1h-1zM126,635h1v1h-1zM129,635h1v1h-1zM131,635h1v1h-1zM68,636h1v1h-1zM72,636h1v1h-1zM80,636h1v1h-1zM81,636h1v1h-1zM82,636h1v1h-1zM83,636h1v1h-1zM87,636h1v1h-1zM91,636h1v1h-1zM93,636h1v1h-1zM96,636h1v1h-1zM97,636h1v1h-1zM100,636h1v1h-1zM103,636h1v1h-1zM107,636h1v1h-1zM120,636h1v1h-1zM121,636h1v1h-1zM70,637h1v1h-1zM71,637h1v1h-1zM72,637h1v1h-1zM73,637h1v1h-1zM77,637h1v1h-1zM78,637h1v1h-1zM80,637h1v1h-1zM81,637h1v1h-1zM82,637h1v1h-1zM88,637h1v1h-1zM90,637h1v1h-1zM91,637h1v1h-1zM99,637h1v1h-1zM101,637h1v1h-1zM102,637h1v1h-1zM104,637h1v1h-1zM119,637h1v1h-1zM120,637h1v1h-1zM121,637h1v1h-1zM71,638h1v1h-1zM72,638h1v1h-1zM75,638h1v1h-1zM78,638h1v1h-1zM79,638h1v1h-1zM81,638h1v1h-1zM84,638h1v1h-1zM85,638h1v1h-1zM92,638h1v1h-1zM95,638h1v1h-1zM104,638h1v1h-1zM108,638h1v1h-1zM118,638h1v1h-1zM120,638h1v1h-1zM122,638h1v1h-1zM67,639h1v1h-1zM68,639h1v1h-1zM70,639h1v1h-1zM71,639h1v1h-1zM72,639h1v1h-1zM73,639h1v1h-1zM81,639h1v1h-1zM82,639h1v1h-1zM84,639h1v1h-1zM85,639h1v1h-1zM88,639h1v1h-1zM89,639h1v1h-1zM96,639h1v1h-1zM99,639h1v1h-1zM103,639h1v1h-1zM106,639h1v1h-1zM108,639h1v1h-1zM122,639h1v1h-1zM124,639h1v1h-1zM69,640h1v1h-1zM70,640h1v1h-1zM76,640h1v1h-1zM80,640h1v1h-1zM83,640h1v1h-1zM84,640h1v1h-1zM86,640h1v1h-1zM92,640h1v1h-1zM93,640h1v1h-1zM99,640h1v1h-1zM101,640h1v1h-1zM104,640h1v1h-1zM105,640h1v1h-1zM106,640h1v1h-1zM120,640h1v1h-1zM129,640h1v1h-1zM69,641h1v1h-1zM70,641h1v1h-1zM72,641h1v1h-1zM78,641h1v1h-1zM80,641h1v1h-1zM84,641h1v1h-1zM86,641h1v1h-1zM87,641h1v1h-1zM88,641h1v1h-1zM89,641h1v1h-1zM92,641h1v1h-1zM96,641h1v1h-1zM98,641h1v1h-1zM104,641h1v1h-1zM105,641h1v1h-1zM107,641h1v1h-1zM122,641h1v1h-1zM124,641h1v1h-1zM67,642h1v1h-1zM70,642h1v1h-1zM78,642h1v1h-1zM85,642h1v1h-1zM88,642h1v1h-1zM97,642h1v1h-1zM98,642h1v1h-1zM99,642h1v1h-1zM101,642h1v1h-1zM102,642h1v1h-1zM103,642h1v1h-1zM104,642h1v1h-1zM106,642h1v1h-1zM107,642h1v1h-1zM110,642h1v1h-1zM121,642h1v1h-1zM124,642h1v1h-1zM69,643h1v1h-1zM73,643h1v1h-1zM75,643h1v1h-1zM76,643h1v1h-1zM81,643h1v1h-1zM84,643h1v1h-1zM85,643h1v1h-1zM87,643h1v1h-1zM95,643h1v1h-1zM101,643h1v1h-1zM106,643h1v1h-1zM107,643h1v1h-1zM108,643h1v1h-1zM118,643h1v1h-1zM119,643h1v1h-1z" fill="#000" fill-opacity="0.5"/>
<path d="M111,607h1v1h-1zM113,607h1v1h-1zM116,607h1v1h-1zM113,608h1v1h-1zM115,612h1v1h-1zM112,613h1v1h-1zM84,618h1v1h-1zM97,618h1v1h-1zM85,619h1v1h-1zM102,619h1v1h-1zM110,619h1v1h-1zM69,620h1v1h-1zM75,620h1v1h-1zM76,620h1v1h-1zM87,620h1v1h-1zM91,620h1v1h-1zM95,620h1v1h-1zM106,620h1v1h-1zM68,621h1v1h-1zM80,621h1v1h-1zM92,621h1v1h-1zM93,621h1v1h-1zM98,621h1v1h-1zM99,621h1v1h-1zM109,621h1v1h-1zM110,621h1v1h-1zM113,621h1v1h-1zM70,622h1v1h-1zM74,622h1v1h-1zM77,622h1v1h-1zM78,622h1v1h-1zM86,622h1v1h-1zM87,622h1v1h-1zM106,622h1v1h-1zM114,622h1v1h-1zM118,622h1v1h-1zM74,623h1v1h-1zM75,623h1v1h-1zM76,623h1v1h-1zM83,623h1v1h-1zM85,623h1v1h-1zM91,623h1v1h-1zM93,623h1v1h-1zM105,623h1v1h-1zM109,623h1v1h-1zM118,623h1v1h-1zM71,624h1v1h-1zM72,624h1v1h-1zM74,624h1v1h-1zM81,624h1v1h-1zM82,624h1v1h-1zM83,624h1v1h-1zM84,624h1v1h-1zM90,624h1v1h-1zM92,624h1v1h-1zM95,624h1v1h-1zM103,624h1v1h-1zM106,624h1v1h-1zM108,624h1v1h-1zM109,624h1v1h-1zM111,624h1v1h-1zM112,624h1v1h-1zM115,624h1v1h-1zM117,624h1v1h-1zM119,624h1v1h-1zM70,625h1v1h-1zM72,625h1v1h-1zM77,625h1v1h-1zM81,625h1v1h-1zM83,625h1v1h-1zM90,625h1v1h-1zM91,625h1v1h-1zM99,625h1v1h-1zM100,625h1v1h-1zM113,625h1v1h-1zM116,625h1v1h-1zM117,625h1v1h-1zM69,626h1v1h-1zM74,626h1v1h-1zM77,626h1v1h-1zM78,626h1v1h-1zM83,626h1v1h-1zM88,626h1v1h-1zM93,626h1v1h-1zM99,626h1v1h-1zM105,626h1v1h-1zM110,626h1v1h-1zM111,626h1v1h-1zM118,626h1v1h-1zM121,626h1v1h-1zM68,627h1v1h-1zM69,627h1v1h-1zM72,627h1v1h-1zM80,627h1v1h-1zM82,627h1v1h-1zM85,627h1v1h-1zM86,627h1v1h-1zM87,627h1v1h-1zM94,627h1v1h-1zM96,627h1v1h-1zM98,627h1v1h-1zM100,627h1v1h-1zM113,627h1v1h-1zM75,628h1v1h-1zM77,628h1v1h-1zM81,628h1v1h-1zM94,628h1v1h-1zM96,628h1v1h-1zM102,628h1v1h-1zM105,628h1v1h-1zM108,628h1v1h-1zM112,628h1v1h-1zM68,629h1v1h-1zM72,629h1v1h-1zM80,629h1v1h-1zM86,629h1v1h-1zM87,629h1v1h-1zM92,629h1v1h-1zM97,629h1v1h-1zM106,629h1v1h-1zM109,629h1v1h-1zM112,629h1v1h-1zM127,629h1v1h-1zM71,630h1v1h-1zM73,630h1v1h-1zM79,630h1v1h-1zM80,630h1v1h-1zM85,630h1v1h-1zM86,630h1v1h-1zM94,630h1v1h-1zM96,630h1v1h-1zM97,630h1v1h-1zM101,630h1v1h-1zM105,630h1v1h-1zM106,630h1v1h-1zM110,630h1v1h-1zM111,630h1v1h-1zM119,630h1v1h-1zM68,631h1v1h-1zM71,631h1v1h-1zM75,631h1v1h-1zM78,631h1v1h-1zM80,631h1v1h-1zM83,631h1v1h-1zM86,631h1v1h-1zM95,631h1v1h-1zM102,631h1v1h-1zM105,631h1v1h-1zM68,632h1v1h-1zM73,632h1v1h-1zM75,632h1v1h-1zM83,632h1v1h-1zM84,632h1v1h-1zM90,632h1v1h-1zM93,632h1v1h-1zM96,632h1v1h-1zM98,632h1v1h-1zM119,632h1v1h-1zM69,633h1v1h-1zM70,633h1v1h-1zM76,633h1v1h-1zM78,633h1v1h-1zM84,633h1v1h-1zM99,633h1v1h-1zM101,633h1v1h-1zM106,633h1v1h-1zM109,633h1v1h-1zM110,633h1v1h-1zM68,634h1v1h-1zM69,634h1v1h-1zM71,634h1v1h-1zM79,634h1v1h-1zM84,634h1v1h-1zM87,634h1v1h-1zM93,634h1v1h-1zM94,634h1v1h-1zM96,634h1v1h-1zM109,634h1v1h-1zM111,634h1v1h-1zM68,635h1v1h-1zM75,635h1v1h-1zM76,635h1v1h-1zM84,635h1v1h-1zM92,635h1v1h-1zM100,635h1v1h-1zM107,635h1v1h-1zM108,635h1v1h-1zM110,635h1v1h-1zM120,635h1v1h-1zM121,635h1v1h-1zM73,636h1v1h-1zM74,636h1v1h-1zM75,636h1v1h-1zM84,636h1v1h-1zM86,636h1v1h-1zM88,636h1v1h-1zM89,636h1v1h-1zM94,636h1v1h-1zM95,636h1v1h-1zM98,636h1v1h-1zM99,636h1v1h-1zM102,636h1v1h-1zM104,636h1v1h-1zM119,636h1v1h-1zM68,637h1v1h-1zM69,637h1v1h-1zM74,637h1v1h-1zM76,637h1v1h-1zM79,637h1v1h-1zM84,637h1v1h-1zM85,637h1v1h-1zM92,637h1v1h-1zM94,637h1v1h-1zM95,637h1v1h-1zM97,637h1v1h-1zM105,637h1v1h-1zM106,637h1v1h-1zM122,637h1v1h-1zM76,638h1v1h-1zM86,638h1v1h-1zM87,638h1v1h-1zM90,638h1v1h-1zM91,638h1v1h-1zM93,638h1v1h-1zM94,638h1v1h-1zM97,638h1v1h-1zM99,638h1v1h-1zM106,638h1v1h-1zM107,638h1v1h-1zM79,639h1v1h-1zM91,639h1v1h-1zM92,639h1v1h-1zM94,639h1v1h-1zM100,639h1v1h-1zM105,639h1v1h-1zM109,639h1v1h-1zM118,639h1v1h-1zM71,640h1v1h-1zM77,640h1v1h-1zM81,640h1v1h-1zM82,640h1v1h-1zM85,640h1v1h-1zM88,640h1v1h-1zM97,640h1v1h-1zM98,640h1v1h-1zM103,640h1v1h-1zM68,641h1v1h-1zM71,641h1v1h-1zM73,641h1v1h-1zM74,641h1v1h-1zM75,641h1v1h-1zM81,641h1v1h-1zM93,641h1v1h-1zM97,641h1v1h-1zM100,641h1v1h-1zM120,641h1v1h-1zM69,642h1v1h-1zM73,642h1v1h-1zM74,642h1v1h-1zM75,642h1v1h-1zM76,642h1v1h-1zM81,642h1v1h-1zM82,642h1v1h-1zM83,642h1v1h-1zM90,642h1v1h-1zM91,642h1v1h-1zM93,642h1v1h-1zM94,642h1v1h-1zM96,642h1v1h-1zM105,642h1v1h-1zM118,642h1v1h-1zM77,643h1v1h-1zM79,643h1v1h-1zM86,643h1v1h-1zM92,643h1v1h-1zM100,643h1v1h-1zM103,643h1v1h-1zM104,643h1v1h-1zM117,643h1v1h-1z" fill="#000" fill-opacity="0.8"/>
<path d="M111,603h1v1h-1zM69,619h1v1h-1zM74,620h1v1h-1zM99,620h1v1h-1zM103,620h1v1h-1zM111,620h1v1h-1zM117,620h1v1h-1zM69,621h1v1h-1zM71,621h1v1h-1zM111,621h1v1h-1zM114,621h1v1h-1zM116,621h1v1h-1zM82,622h1v1h-1zM88,622h1v1h-1zM95,622h1v1h-1zM98,622h1v1h-1zM109,622h1v1h-1zM92,623h1v1h-1zM97,623h1v1h-1zM108,623h1v1h-1zM110,623h1v1h-1zM112,623h1v1h-1zM115,623h1v1h-1zM116,623h1v1h-1zM68,624h1v1h-1zM80,624h1v1h-1zM91,624h1v1h-1zM102,624h1v1h-1zM105,624h1v1h-1zM110,624h1v1h-1zM113,624h1v1h-1zM114,624h1v1h-1zM118,624h1v1h-1zM74,625h1v1h-1zM78,625h1v1h-1zM94,625h1v1h-1zM96,625h1v1h-1zM97,625h1v1h-1zM98,625h1v1h-1zM104,625h1v1h-1zM106,625h1v1h-1zM110,625h1v1h-1zM111,625h1v1h-1zM112,625h1v1h-1zM114,625h1v1h-1zM115,625h1v1h-1zM68,626h1v1h-1zM76,626h1v1h-1zM82,626h1v1h-1zM96,626h1v1h-1zM104,626h1v1h-1zM108,626h1v1h-1zM109,626h1v1h-1zM112,626h1v1h-1zM113,626h1v1h-1zM114,626h1v1h-1zM115,626h1v1h-1zM70,627h1v1h-1zM75,627h1v1h-1zM76,627h1v1h-1zM79,627h1v1h-1zM83,627h1v1h-1zM93,627h1v1h-1zM111,627h1v1h-1zM115,627h1v1h-1zM116,627h1v1h-1zM117,627h1v1h-1zM119,627h1v1h-1zM121,627h1v1h-1zM68,628h1v1h-1zM69,628h1v1h-1zM93,628h1v1h-1zM95,628h1v1h-1zM104,628h1v1h-1zM109,628h1v1h-1zM110,628h1v1h-1zM111,628h1v1h-1zM113,628h1v1h-1zM114,628h1v1h-1zM115,628h1v1h-1zM116,628h1v1h-1zM117,628h1v1h-1zM118,628h1v1h-1zM89,629h1v1h-1zM103,629h1v1h-1zM107,629h1v1h-1zM110,629h1v1h-1zM111,629h1v1h-1zM114,629h1v1h-1zM115,629h1v1h-1zM117,629h1v1h-1zM118,629h1v1h-1zM69,630h1v1h-1zM81,630h1v1h-1zM83,630h1v1h-1zM107,630h1v1h-1zM109,630h1v1h-1zM112,630h1v1h-1zM113,630h1v1h-1zM114,630h1v1h-1zM115,630h1v1h-1zM116,630h1v1h-1zM117,630h1v1h-1zM118,630h1v1h-1zM69,631h1v1h-1zM74,631h1v1h-1zM77,631h1v1h-1zM84,631h1v1h-1zM85,631h1v1h-1zM92,631h1v1h-1zM98,631h1v1h-1zM100,631h1v1h-1zM109,631h1v1h-1zM111,631h1v1h-1zM112,631h1v1h-1zM113,631h1v1h-1zM114,631h1v1h-1zM115,631h1v1h-1zM116,631h1v1h-1zM117,631h1v1h-1zM118,631h1v1h-1zM119,631h1v1h-1zM69,632h1v1h-1zM78,632h1v1h-1zM81,632h1v1h-1zM86,632h1v1h-1zM99,632h1v1h-1zM103,632h1v1h-1zM107,632h1v1h-1zM109,632h1v1h-1zM110,632h1v1h-1zM111,632h1v1h-1zM112,632h1v1h-1zM113,632h1v1h-1zM114,632h1v1h-1zM115,632h1v1h-1zM116,632h1v1h-1zM117,632h1v1h-1zM118,632h1v1h-1zM91,633h1v1h-1zM92,633h1v1h-1zM104,633h1v1h-1zM107,633h1v1h-1zM111,633h1v1h-1zM112,633h1v1h-1zM113,633h1v1h-1zM114,633h1v1h-1zM115,633h1v1h-1zM116,633h1v1h-1zM117,633h1v1h-1zM118,633h1v1h-1zM119,633h1v1h-1zM120,633h1v1h-1zM72,634h1v1h-1zM74,634h1v1h-1zM76,634h1v1h-1zM77,634h1v1h-1zM90,634h1v1h-1zM92,634h1v1h-1zM101,634h1v1h-1zM106,634h1v1h-1zM110,634h1v1h-1zM112,634h1v1h-1zM113,634h1v1h-1zM114,634h1v1h-1zM115,634h1v1h-1zM116,634h1v1h-1zM117,634h1v1h-1zM118,634h1v1h-1zM72,635h1v1h-1zM74,635h1v1h-1zM79,635h1v1h-1zM83,635h1v1h-1zM85,635h1v1h-1zM86,635h1v1h-1zM90,635h1v1h-1zM93,635h1v1h-1zM99,635h1v1h-1zM102,635h1v1h-1zM105,635h1v1h-1zM109,635h1v1h-1zM111,635h1v1h-1zM112,635h1v1h-1zM113,635h1v1h-1zM114,635h1v1h-1zM115,635h1v1h-1zM116,635h1v1h-1zM117,635h1v1h-1zM118,635h1v1h-1zM69,636h1v1h-1zM71,636h1v1h-1zM76,636h1v1h-1zM78,636h1v1h-1zM85,636h1v1h-1zM90,636h1v1h-1zM101,636h1v1h-1zM105,636h1v1h-1zM108,636h1v1h-1zM109,636h1v1h-1zM110,636h1v1h-1zM111,636h1v1h-1zM112,636h1v1h-1zM113,636h1v1h-1zM114,636h1v1h-1zM115,636h1v1h-1zM116,636h1v1h-1zM117,636h1v1h-1zM118,636h1v1h-1zM83,637h1v1h-1zM86,637h1v1h-1zM87,637h1v1h-1zM89,637h1v1h-1zM93,637h1v1h-1zM109,637h1v1h-1zM110,637h1v1h-1zM111,637h1v1h-1zM112,637h1v1h-1zM113,637h1v1h-1zM114,637h1v1h-1zM115,637h1v1h-1zM116,637h1v1h-1zM117,637h1v1h-1zM118,637h1v1h-1zM68,638h1v1h-1zM69,638h1v1h-1zM70,638h1v1h-1zM73,638h1v1h-1zM77,638h1v1h-1zM80,638h1v1h-1zM98,638h1v1h-1zM101,638h1v1h-1zM103,638h1v1h-1zM105,638h1v1h-1zM109,638h1v1h-1zM110,638h1v1h-1zM111,638h1v1h-1zM112,638h1v1h-1zM113,638h1v1h-1zM114,638h1v1h-1zM115,638h1v1h-1zM116,638h1v1h-1zM117,638h1v1h-1zM119,638h1v1h-1zM69,639h1v1h-1zM80,639h1v1h-1zM86,639h1v1h-1zM93,639h1v1h-1zM95,639h1v1h-1zM110,639h1v1h-1zM112,639h1v1h-1zM113,639h1v1h-1zM114,639h1v1h-1zM115,639h1v1h-1zM116,639h1v1h-1zM117,639h1v1h-1zM119,639h1v1h-1zM68,640h1v1h-1zM73,640h1v1h-1zM75,640h1v1h-1zM78,640h1v1h-1zM89,640h1v1h-1zM90,640h1v1h-1zM94,640h1v1h-1zM95,640h1v1h-1zM96,640h1v1h-1zM109,640h1v1h-1zM110,640h1v1h-1zM111,640h1v1h-1zM112,640h1v1h-1zM113,640h1v1h-1zM114,640h1v1h-1zM115,640h1v1h-1zM116,640h1v1h-1zM117,640h1v1h-1zM118,640h1v1h-1zM119,640h1v1h-1zM76,641h1v1h-1zM83,641h1v1h-1zM85,641h1v1h-1zM95,641h1v1h-1zM99,641h1v1h-1zM101,641h1v1h-1zM106,641h1v1h-1zM108,641h1v1h-1zM109,641h1v1h-1zM110,641h1v1h-1zM111,641h1v1h-1zM112,641h1v1h-1zM113,641h1v1h-1zM114,641h1v1h-1zM115,641h1v1h-1zM116,641h1v1h-1zM117,641h1v1h-1zM118,641h1v1h-1zM119,641h1v1h-1zM71,642h1v1h-1zM77,642h1v1h-1zM79,642h1v1h-1zM80,642h1v1h-1zM86,642h1v1h-1zM89,642h1v1h-1zM100,642h1v1h-1zM111,642h1v1h-1zM112,642h1v1h-1zM113,642h1v1h-1zM114,642h1v1h-1zM115,642h1v1h-1zM116,642h1v1h-1zM117,642h1v1h-1zM119,642h1v1h-1zM120,642h1v1h-1zM70,643h1v1h-1zM71,643h1v1h-1zM72,643h1v1h-1zM80,643h1v1h-1zM83,643h1v1h-1zM88,643h1v1h-1zM89,643h1v1h-1zM96,643h1v1h-1zM97,643h1v1h-1zM98,643h1v1h-1zM110,643h1v1h-1zM111,643h1v1h-1zM112,643h1v1h-1zM113,643h1v1h-1zM114,643h1v1h-1zM115,643h1v1h-1zM116,643h1v1h-1z" fill="#000" fill-opacity="1.0"/>
</g>
<rect x="104.2" y="592.8" width="21.39999999999999" height="24.200000000000045" fill="none" stroke="#000" stroke-width="2"/>
<text x="114.7" y="585.5" font-size="13" text-anchor="middle" font-weight="normal" >2.89</text>
<path d="M145.0,494.1H217.8V567.6" fill="none" stroke="#555" stroke-width="1"/>
<path d="M145.1,493.6V566.7H217.8" fill="none" stroke="#000" stroke-width="1.7"/>
<path d="M143.4,497.1h1.5 M143.4,500.3h1.5 M143.4,503.5h1.5 M143.4,506.7h1.5 M143.4,509.9h1.5 M143.4,513.1h1.5 M143.4,516.3h1.5 M143.4,518.8h1.5 M143.4,524.0h1.5 M143.4,527.2h1.5 M143.4,531.0h1.5 M143.4,533.5h1.5 M143.4,538.1h1.5 M143.4,541.3h1.5 M143.4,546.5h1.5 M143.4,549.0h1.5 M143.4,552.8h1.5 M143.4,556.0h1.5 M143.4,558.5h1.5 M143.4,562.3h1.5 M148.0,567.2v1.5 M151.2,567.2v1.5 M155.0,567.2v1.5 M158.8,567.2v1.5 M162.0,567.2v1.5 M166.6,567.2v1.5 M171.8,567.2v1.5 M177.0,567.2v1.5 M181.6,567.2v1.5 M185.4,567.2v1.5 M190.0,567.2v1.5 M193.8,567.2v1.5 M196.3,567.2v1.5 M200.1,567.2v1.5 M205.3,567.2v1.5 M209.1,567.2v1.5 M213.7,567.2v1.5" stroke="#000" stroke-width="1.3" fill="none"/>
<g filter="url(#soft)">
<path d="M193,511h1v1h-1zM197,511h1v1h-1zM192,514h1v1h-1zM200,516h1v1h-1zM188,517h1v1h-1zM189,517h1v1h-1zM193,517h1v1h-1zM196,517h1v1h-1zM200,517h1v1h-1zM189,518h1v1h-1zM190,518h1v1h-1zM194,518h1v1h-1zM199,518h1v1h-1zM191,519h1v1h-1zM192,519h1v1h-1zM194,519h1v1h-1zM195,519h1v1h-1zM198,519h1v1h-1zM199,519h1v1h-1zM200,519h1v1h-1zM190,520h1v1h-1zM191,520h1v1h-1zM192,520h1v1h-1zM194,520h1v1h-1zM186,521h1v1h-1zM188,521h1v1h-1zM190,521h1v1h-1zM197,521h1v1h-1zM198,521h1v1h-1zM188,522h1v1h-1zM191,522h1v1h-1zM196,522h1v1h-1zM200,522h1v1h-1zM185,523h1v1h-1zM188,523h1v1h-1zM189,523h1v1h-1zM195,523h1v1h-1zM197,523h1v1h-1zM186,524h1v1h-1zM188,524h1v1h-1zM190,524h1v1h-1zM192,524h1v1h-1zM195,524h1v1h-1zM197,524h1v1h-1zM199,524h1v1h-1zM190,525h1v1h-1zM191,525h1v1h-1zM195,525h1v1h-1zM198,525h1v1h-1zM204,525h1v1h-1zM191,526h1v1h-1zM193,526h1v1h-1zM194,526h1v1h-1zM195,526h1v1h-1zM189,527h1v1h-1zM190,527h1v1h-1zM195,527h1v1h-1zM195,528h1v1h-1zM197,528h1v1h-1zM205,528h1v1h-1zM165,529h1v1h-1zM192,529h1v1h-1zM200,529h1v1h-1zM184,530h1v1h-1zM187,530h1v1h-1zM189,530h1v1h-1zM202,531h1v1h-1zM193,532h1v1h-1zM199,532h1v1h-1zM167,533h1v1h-1zM183,533h1v1h-1zM181,534h1v1h-1zM182,534h1v1h-1zM185,534h1v1h-1zM193,534h1v1h-1zM197,534h1v1h-1zM181,535h1v1h-1zM185,535h1v1h-1zM186,535h1v1h-1zM189,535h1v1h-1zM190,535h1v1h-1zM191,535h1v1h-1zM185,536h1v1h-1zM198,536h1v1h-1zM156,537h1v1h-1zM176,537h1v1h-1zM180,537h1v1h-1zM181,537h1v1h-1zM182,537h1v1h-1zM189,537h1v1h-1zM190,537h1v1h-1zM195,537h1v1h-1zM206,537h1v1h-1zM156,538h1v1h-1zM158,538h1v1h-1zM162,538h1v1h-1zM178,538h1v1h-1zM183,538h1v1h-1zM188,538h1v1h-1zM196,538h1v1h-1zM208,538h1v1h-1zM148,539h1v1h-1zM165,539h1v1h-1zM171,539h1v1h-1zM182,539h1v1h-1zM192,539h1v1h-1zM195,539h1v1h-1zM197,539h1v1h-1zM150,540h1v1h-1zM155,540h1v1h-1zM156,540h1v1h-1zM158,540h1v1h-1zM165,540h1v1h-1zM168,540h1v1h-1zM173,540h1v1h-1zM181,540h1v1h-1zM182,540h1v1h-1zM187,540h1v1h-1zM191,540h1v1h-1zM192,540h1v1h-1zM193,540h1v1h-1zM198,540h1v1h-1zM200,540h1v1h-1zM167,541h1v1h-1zM171,541h1v1h-1zM176,541h1v1h-1zM179,541h1v1h-1zM180,541h1v1h-1zM189,541h1v1h-1zM191,541h1v1h-1zM192,541h1v1h-1zM195,541h1v1h-1zM198,541h1v1h-1zM151,542h1v1h-1zM152,542h1v1h-1zM154,542h1v1h-1zM159,542h1v1h-1zM165,542h1v1h-1zM167,542h1v1h-1zM169,542h1v1h-1zM173,542h1v1h-1zM182,542h1v1h-1zM183,542h1v1h-1zM185,542h1v1h-1zM186,542h1v1h-1zM199,542h1v1h-1zM200,542h1v1h-1zM205,542h1v1h-1zM151,543h1v1h-1zM154,543h1v1h-1zM160,543h1v1h-1zM165,543h1v1h-1zM170,543h1v1h-1zM172,543h1v1h-1zM175,543h1v1h-1zM180,543h1v1h-1zM181,543h1v1h-1zM183,543h1v1h-1zM185,543h1v1h-1zM186,543h1v1h-1zM187,543h1v1h-1zM190,543h1v1h-1zM192,543h1v1h-1zM193,543h1v1h-1zM194,543h1v1h-1zM196,543h1v1h-1zM197,543h1v1h-1zM154,544h1v1h-1zM162,544h1v1h-1zM163,544h1v1h-1zM166,544h1v1h-1zM179,544h1v1h-1zM182,544h1v1h-1zM184,544h1v1h-1zM189,544h1v1h-1zM196,544h1v1h-1zM149,545h1v1h-1zM152,545h1v1h-1zM153,545h1v1h-1zM155,545h1v1h-1zM157,545h1v1h-1zM161,545h1v1h-1zM162,545h1v1h-1zM163,545h1v1h-1zM168,545h1v1h-1zM176,545h1v1h-1zM184,545h1v1h-1zM186,545h1v1h-1zM191,545h1v1h-1zM194,545h1v1h-1zM195,545h1v1h-1zM196,545h1v1h-1zM199,545h1v1h-1zM200,545h1v1h-1zM148,546h1v1h-1zM155,546h1v1h-1zM157,546h1v1h-1zM161,546h1v1h-1zM162,546h1v1h-1zM163,546h1v1h-1zM168,546h1v1h-1zM169,546h1v1h-1zM171,546h1v1h-1zM173,546h1v1h-1zM176,546h1v1h-1zM177,546h1v1h-1zM182,546h1v1h-1zM183,546h1v1h-1zM184,546h1v1h-1zM197,546h1v1h-1zM148,547h1v1h-1zM150,547h1v1h-1zM153,547h1v1h-1zM157,547h1v1h-1zM158,547h1v1h-1zM163,547h1v1h-1zM170,547h1v1h-1zM171,547h1v1h-1zM176,547h1v1h-1zM182,547h1v1h-1zM183,547h1v1h-1zM194,547h1v1h-1zM155,548h1v1h-1zM160,548h1v1h-1zM162,548h1v1h-1zM163,548h1v1h-1zM168,548h1v1h-1zM177,548h1v1h-1zM178,548h1v1h-1zM180,548h1v1h-1zM181,548h1v1h-1zM182,548h1v1h-1zM183,548h1v1h-1zM197,548h1v1h-1zM198,548h1v1h-1zM202,548h1v1h-1zM158,549h1v1h-1zM160,549h1v1h-1zM161,549h1v1h-1zM166,549h1v1h-1zM167,549h1v1h-1zM173,549h1v1h-1zM198,549h1v1h-1zM200,549h1v1h-1zM148,550h1v1h-1zM161,550h1v1h-1zM162,550h1v1h-1zM164,550h1v1h-1zM166,550h1v1h-1zM175,550h1v1h-1zM176,550h1v1h-1zM179,550h1v1h-1zM209,550h1v1h-1zM149,551h1v1h-1zM152,551h1v1h-1zM155,551h1v1h-1zM158,551h1v1h-1zM160,551h1v1h-1zM165,551h1v1h-1zM166,551h1v1h-1zM169,551h1v1h-1zM170,551h1v1h-1zM171,551h1v1h-1zM176,551h1v1h-1zM177,551h1v1h-1zM178,551h1v1h-1zM180,551h1v1h-1zM202,551h1v1h-1zM154,552h1v1h-1zM159,552h1v1h-1zM161,552h1v1h-1zM166,552h1v1h-1zM168,552h1v1h-1zM169,552h1v1h-1zM177,552h1v1h-1zM182,552h1v1h-1zM197,552h1v1h-1zM203,552h1v1h-1zM207,552h1v1h-1zM148,553h1v1h-1zM152,553h1v1h-1zM157,553h1v1h-1zM161,553h1v1h-1zM162,553h1v1h-1zM166,553h1v1h-1zM167,553h1v1h-1zM168,553h1v1h-1zM170,553h1v1h-1zM172,553h1v1h-1zM174,553h1v1h-1zM176,553h1v1h-1zM178,553h1v1h-1zM179,553h1v1h-1zM199,553h1v1h-1zM201,553h1v1h-1zM202,553h1v1h-1zM203,553h1v1h-1zM205,553h1v1h-1zM207,553h1v1h-1zM148,554h1v1h-1zM154,554h1v1h-1zM155,554h1v1h-1zM162,554h1v1h-1zM165,554h1v1h-1zM169,554h1v1h-1zM170,554h1v1h-1zM172,554h1v1h-1zM173,554h1v1h-1zM174,554h1v1h-1zM175,554h1v1h-1zM176,554h1v1h-1zM179,554h1v1h-1zM182,554h1v1h-1zM202,554h1v1h-1zM203,554h1v1h-1zM152,555h1v1h-1zM153,555h1v1h-1zM160,555h1v1h-1zM161,555h1v1h-1zM163,555h1v1h-1zM167,555h1v1h-1zM170,555h1v1h-1zM174,555h1v1h-1zM175,555h1v1h-1zM178,555h1v1h-1zM179,555h1v1h-1zM180,555h1v1h-1zM181,555h1v1h-1zM183,555h1v1h-1zM199,555h1v1h-1zM201,555h1v1h-1zM204,555h1v1h-1zM205,555h1v1h-1zM148,556h1v1h-1zM149,556h1v1h-1zM152,556h1v1h-1zM155,556h1v1h-1zM157,556h1v1h-1zM160,556h1v1h-1zM162,556h1v1h-1zM166,556h1v1h-1zM170,556h1v1h-1zM173,556h1v1h-1zM177,556h1v1h-1zM181,556h1v1h-1zM182,556h1v1h-1zM197,556h1v1h-1zM198,556h1v1h-1zM200,556h1v1h-1zM203,556h1v1h-1zM148,557h1v1h-1zM155,557h1v1h-1zM158,557h1v1h-1zM160,557h1v1h-1zM162,557h1v1h-1zM163,557h1v1h-1zM167,557h1v1h-1zM169,557h1v1h-1zM180,557h1v1h-1zM181,557h1v1h-1zM198,557h1v1h-1zM199,557h1v1h-1zM201,557h1v1h-1zM202,557h1v1h-1zM149,558h1v1h-1zM150,558h1v1h-1zM155,558h1v1h-1zM159,558h1v1h-1zM162,558h1v1h-1zM164,558h1v1h-1zM168,558h1v1h-1zM179,558h1v1h-1zM183,558h1v1h-1zM201,558h1v1h-1zM202,558h1v1h-1zM208,558h1v1h-1zM148,559h1v1h-1zM151,559h1v1h-1zM157,559h1v1h-1zM161,559h1v1h-1zM164,559h1v1h-1zM166,559h1v1h-1zM169,559h1v1h-1zM171,559h1v1h-1zM175,559h1v1h-1zM176,559h1v1h-1zM177,559h1v1h-1zM181,559h1v1h-1zM184,559h1v1h-1zM149,560h1v1h-1zM153,560h1v1h-1zM156,560h1v1h-1zM157,560h1v1h-1zM159,560h1v1h-1zM163,560h1v1h-1zM165,560h1v1h-1zM166,560h1v1h-1zM168,560h1v1h-1zM172,560h1v1h-1zM173,560h1v1h-1zM177,560h1v1h-1zM180,560h1v1h-1zM181,560h1v1h-1zM205,560h1v1h-1zM149,561h1v1h-1zM152,561h1v1h-1zM154,561h1v1h-1zM158,561h1v1h-1zM160,561h1v1h-1zM167,561h1v1h-1zM173,561h1v1h-1zM174,561h1v1h-1zM175,561h1v1h-1zM179,561h1v1h-1zM184,561h1v1h-1zM199,561h1v1h-1zM201,561h1v1h-1zM205,561h1v1h-1zM209,561h1v1h-1zM148,562h1v1h-1zM152,562h1v1h-1zM153,562h1v1h-1zM154,562h1v1h-1zM159,562h1v1h-1zM165,562h1v1h-1zM168,562h1v1h-1zM170,562h1v1h-1zM171,562h1v1h-1zM175,562h1v1h-1zM176,562h1v1h-1zM177,562h1v1h-1zM179,562h1v1h-1zM181,562h1v1h-1zM200,562h1v1h-1zM201,562h1v1h-1zM202,562h1v1h-1zM208,562h1v1h-1zM148,563h1v1h-1zM151,563h1v1h-1zM154,563h1v1h-1zM156,563h1v1h-1zM158,563h1v1h-1zM159,563h1v1h-1zM165,563h1v1h-1zM166,563h1v1h-1zM169,563h1v1h-1zM174,563h1v1h-1zM176,563h1v1h-1zM177,563h1v1h-1zM179,563h1v1h-1zM181,563h1v1h-1zM202,563h1v1h-1zM152,564h1v1h-1zM153,564h1v1h-1zM155,564h1v1h-1zM156,564h1v1h-1zM160,564h1v1h-1zM164,564h1v1h-1zM169,564h1v1h-1zM174,564h1v1h-1zM175,564h1v1h-1zM178,564h1v1h-1zM180,564h1v1h-1zM203,564h1v1h-1zM152,565h1v1h-1zM155,565h1v1h-1zM166,565h1v1h-1zM174,565h1v1h-1zM176,565h1v1h-1zM177,565h1v1h-1zM181,565h1v1h-1zM184,565h1v1h-1zM196,565h1v1h-1z" fill="#000" fill-opacity="0.5"/>
<path d="M193,516h1v1h-1zM193,518h1v1h-1zM189,519h1v1h-1zM196,519h1v1h-1zM188,520h1v1h-1zM189,521h1v1h-1zM192,521h1v1h-1zM196,521h1v1h-1zM189,522h1v1h-1zM193,522h1v1h-1zM194,522h1v1h-1zM190,523h1v1h-1zM191,524h1v1h-1zM193,524h1v1h-1zM193,525h1v1h-1zM188,526h1v1h-1zM192,526h1v1h-1zM197,526h1v1h-1zM192,527h1v1h-1zM197,527h1v1h-1zM191,529h1v1h-1zM191,531h1v1h-1zM188,539h1v1h-1zM193,539h1v1h-1zM171,540h1v1h-1zM184,540h1v1h-1zM188,540h1v1h-1zM189,540h1v1h-1zM194,540h1v1h-1zM182,541h1v1h-1zM185,541h1v1h-1zM186,541h1v1h-1zM188,541h1v1h-1zM193,541h1v1h-1zM194,541h1v1h-1zM160,542h1v1h-1zM172,542h1v1h-1zM178,542h1v1h-1zM189,542h1v1h-1zM191,542h1v1h-1zM195,542h1v1h-1zM161,543h1v1h-1zM169,543h1v1h-1zM171,543h1v1h-1zM174,543h1v1h-1zM184,543h1v1h-1zM195,543h1v1h-1zM198,543h1v1h-1zM151,544h1v1h-1zM158,544h1v1h-1zM160,544h1v1h-1zM170,544h1v1h-1zM175,544h1v1h-1zM195,544h1v1h-1zM197,544h1v1h-1zM175,545h1v1h-1zM182,545h1v1h-1zM187,545h1v1h-1zM192,545h1v1h-1zM153,546h1v1h-1zM158,546h1v1h-1zM178,546h1v1h-1zM186,546h1v1h-1zM193,546h1v1h-1zM195,546h1v1h-1zM196,546h1v1h-1zM160,547h1v1h-1zM172,547h1v1h-1zM178,547h1v1h-1zM185,547h1v1h-1zM196,547h1v1h-1zM198,547h1v1h-1zM201,547h1v1h-1zM204,547h1v1h-1zM164,548h1v1h-1zM169,548h1v1h-1zM170,548h1v1h-1zM174,548h1v1h-1zM176,548h1v1h-1zM196,548h1v1h-1zM159,549h1v1h-1zM177,549h1v1h-1zM183,549h1v1h-1zM186,549h1v1h-1zM199,549h1v1h-1zM150,550h1v1h-1zM170,550h1v1h-1zM178,550h1v1h-1zM183,550h1v1h-1zM184,550h1v1h-1zM192,550h1v1h-1zM198,550h1v1h-1zM200,550h1v1h-1zM153,551h1v1h-1zM156,551h1v1h-1zM161,551h1v1h-1zM172,551h1v1h-1zM183,551h1v1h-1zM173,552h1v1h-1zM176,552h1v1h-1zM183,552h1v1h-1zM158,553h1v1h-1zM160,553h1v1h-1zM169,553h1v1h-1zM198,553h1v1h-1zM200,553h1v1h-1zM150,554h1v1h-1zM156,554h1v1h-1zM164,554h1v1h-1zM178,554h1v1h-1zM183,554h1v1h-1zM197,554h1v1h-1zM199,554h1v1h-1zM200,554h1v1h-1zM154,555h1v1h-1zM155,555h1v1h-1zM158,555h1v1h-1zM177,555h1v1h-1zM185,555h1v1h-1zM200,555h1v1h-1zM150,556h1v1h-1zM156,556h1v1h-1zM159,556h1v1h-1zM167,556h1v1h-1zM174,556h1v1h-1zM185,556h1v1h-1zM199,556h1v1h-1zM152,557h1v1h-1zM157,557h1v1h-1zM170,557h1v1h-1zM171,557h1v1h-1zM182,557h1v1h-1zM184,557h1v1h-1zM200,557h1v1h-1zM147,558h1v1h-1zM151,558h1v1h-1zM153,558h1v1h-1zM157,558h1v1h-1zM163,558h1v1h-1zM165,558h1v1h-1zM173,558h1v1h-1zM176,558h1v1h-1zM173,559h1v1h-1zM174,559h1v1h-1zM178,559h1v1h-1zM182,559h1v1h-1zM198,559h1v1h-1zM151,560h1v1h-1zM169,560h1v1h-1zM171,560h1v1h-1zM182,560h1v1h-1zM199,560h1v1h-1zM200,560h1v1h-1zM153,561h1v1h-1zM157,561h1v1h-1zM159,561h1v1h-1zM161,561h1v1h-1zM162,561h1v1h-1zM171,561h1v1h-1zM183,561h1v1h-1zM161,562h1v1h-1zM174,562h1v1h-1zM198,562h1v1h-1zM199,562h1v1h-1zM162,563h1v1h-1zM164,563h1v1h-1zM171,563h1v1h-1zM180,563h1v1h-1zM183,563h1v1h-1zM184,563h1v1h-1zM149,564h1v1h-1zM150,564h1v1h-1zM151,564h1v1h-1zM158,564h1v1h-1zM159,564h1v1h-1zM161,564h1v1h-1zM167,564h1v1h-1zM168,564h1v1h-1zM181,564h1v1h-1zM183,564h1v1h-1zM184,564h1v1h-1zM199,564h1v1h-1zM156,565h1v1h-1zM157,565h1v1h-1zM188,565h1v1h-1zM189,565h1v1h-1zM195,565h1v1h-1z" fill="#000" fill-opacity="0.8"/>
<path d="M193,519h1v1h-1zM193,520h1v1h-1zM191,521h1v1h-1zM193,521h1v1h-1zM195,521h1v1h-1zM192,522h1v1h-1zM195,522h1v1h-1zM192,523h1v1h-1zM193,523h1v1h-1zM194,523h1v1h-1zM196,523h1v1h-1zM167,540h1v1h-1zM187,541h1v1h-1zM190,541h1v1h-1zM163,542h1v1h-1zM187,542h1v1h-1zM188,542h1v1h-1zM193,542h1v1h-1zM196,542h1v1h-1zM188,543h1v1h-1zM191,543h1v1h-1zM185,544h1v1h-1zM188,544h1v1h-1zM190,544h1v1h-1zM191,544h1v1h-1zM193,544h1v1h-1zM194,544h1v1h-1zM185,545h1v1h-1zM188,545h1v1h-1zM189,545h1v1h-1zM190,545h1v1h-1zM193,545h1v1h-1zM197,545h1v1h-1zM198,545h1v1h-1zM187,546h1v1h-1zM188,546h1v1h-1zM189,546h1v1h-1zM190,546h1v1h-1zM191,546h1v1h-1zM192,546h1v1h-1zM194,546h1v1h-1zM186,547h1v1h-1zM187,547h1v1h-1zM188,547h1v1h-1zM189,547h1v1h-1zM190,547h1v1h-1zM191,547h1v1h-1zM192,547h1v1h-1zM193,547h1v1h-1zM195,547h1v1h-1zM166,548h1v1h-1zM184,548h1v1h-1zM185,548h1v1h-1zM186,548h1v1h-1zM187,548h1v1h-1zM188,548h1v1h-1zM189,548h1v1h-1zM190,548h1v1h-1zM191,548h1v1h-1zM192,548h1v1h-1zM193,548h1v1h-1zM194,548h1v1h-1zM195,548h1v1h-1zM184,549h1v1h-1zM185,549h1v1h-1zM187,549h1v1h-1zM188,549h1v1h-1zM189,549h1v1h-1zM190,549h1v1h-1zM191,549h1v1h-1zM192,549h1v1h-1zM193,549h1v1h-1zM194,549h1v1h-1zM195,549h1v1h-1zM196,549h1v1h-1zM185,550h1v1h-1zM186,550h1v1h-1zM187,550h1v1h-1zM188,550h1v1h-1zM189,550h1v1h-1zM190,550h1v1h-1zM191,550h1v1h-1zM193,550h1v1h-1zM194,550h1v1h-1zM195,550h1v1h-1zM196,550h1v1h-1zM197,550h1v1h-1zM150,551h1v1h-1zM184,551h1v1h-1zM186,551h1v1h-1zM187,551h1v1h-1zM188,551h1v1h-1zM189,551h1v1h-1zM190,551h1v1h-1zM191,551h1v1h-1zM192,551h1v1h-1zM193,551h1v1h-1zM194,551h1v1h-1zM195,551h1v1h-1zM196,551h1v1h-1zM197,551h1v1h-1zM198,551h1v1h-1zM149,552h1v1h-1zM164,552h1v1h-1zM184,552h1v1h-1zM185,552h1v1h-1zM186,552h1v1h-1zM187,552h1v1h-1zM188,552h1v1h-1zM189,552h1v1h-1zM190,552h1v1h-1zM191,552h1v1h-1zM192,552h1v1h-1zM193,552h1v1h-1zM194,552h1v1h-1zM195,552h1v1h-1zM196,552h1v1h-1zM198,552h1v1h-1zM199,552h1v1h-1zM184,553h1v1h-1zM185,553h1v1h-1zM186,553h1v1h-1zM187,553h1v1h-1zM188,553h1v1h-1zM189,553h1v1h-1zM190,553h1v1h-1zM191,553h1v1h-1zM192,553h1v1h-1zM193,553h1v1h-1zM194,553h1v1h-1zM195,553h1v1h-1zM196,553h1v1h-1zM197,553h1v1h-1zM160,554h1v1h-1zM184,554h1v1h-1zM185,554h1v1h-1zM186,554h1v1h-1zM187,554h1v1h-1zM188,554h1v1h-1zM189,554h1v1h-1zM190,554h1v1h-1zM191,554h1v1h-1zM192,554h1v1h-1zM193,554h1v1h-1zM194,554h1v1h-1zM195,554h1v1h-1zM196,554h1v1h-1zM198,554h1v1h-1zM184,555h1v1h-1zM186,555h1v1h-1zM187,555h1v1h-1zM188,555h1v1h-1zM189,555h1v1h-1zM190,555h1v1h-1zM191,555h1v1h-1zM192,555h1v1h-1zM193,555h1v1h-1zM194,555h1v1h-1zM195,555h1v1h-1zM196,555h1v1h-1zM197,555h1v1h-1zM198,555h1v1h-1zM153,556h1v1h-1zM183,556h1v1h-1zM184,556h1v1h-1zM186,556h1v1h-1zM187,556h1v1h-1zM188,556h1v1h-1zM189,556h1v1h-1zM190,556h1v1h-1zM191,556h1v1h-1zM192,556h1v1h-1zM193,556h1v1h-1zM194,556h1v1h-1zM195,556h1v1h-1zM196,556h1v1h-1zM149,557h1v1h-1zM154,557h1v1h-1zM183,557h1v1h-1zM185,557h1v1h-1zM186,557h1v1h-1zM187,557h1v1h-1zM188,557h1v1h-1zM189,557h1v1h-1zM190,557h1v1h-1zM191,557h1v1h-1zM192,557h1v1h-1zM193,557h1v1h-1zM194,557h1v1h-1zM195,557h1v1h-1zM196,557h1v1h-1zM197,557h1v1h-1zM171,558h1v1h-1zM184,558h1v1h-1zM185,558h1v1h-1zM186,558h1v1h-1zM187,558h1v1h-1zM188,558h1v1h-1zM189,558h1v1h-1zM190,558h1v1h-1zM191,558h1v1h-1zM192,558h1v1h-1zM193,558h1v1h-1zM194,558h1v1h-1zM195,558h1v1h-1zM196,558h1v1h-1zM197,558h1v1h-1zM198,558h1v1h-1zM179,559h1v1h-1zM183,559h1v1h-1zM185,559h1v1h-1zM186,559h1v1h-1zM187,559h1v1h-1zM188,559h1v1h-1zM189,559h1v1h-1zM190,559h1v1h-1zM191,559h1v1h-1zM192,559h1v1h-1zM193,559h1v1h-1zM194,559h1v1h-1zM195,559h1v1h-1zM196,559h1v1h-1zM197,559h1v1h-1zM178,560h1v1h-1zM183,560h1v1h-1zM184,560h1v1h-1zM185,560h1v1h-1zM186,560h1v1h-1zM187,560h1v1h-1zM188,560h1v1h-1zM189,560h1v1h-1zM190,560h1v1h-1zM191,560h1v1h-1zM192,560h1v1h-1zM193,560h1v1h-1zM194,560h1v1h-1zM195,560h1v1h-1zM196,560h1v1h-1zM197,560h1v1h-1zM198,560h1v1h-1zM182,561h1v1h-1zM185,561h1v1h-1zM186,561h1v1h-1zM187,561h1v1h-1zM188,561h1v1h-1zM189,561h1v1h-1zM190,561h1v1h-1zM191,561h1v1h-1zM192,561h1v1h-1zM193,561h1v1h-1zM194,561h1v1h-1zM195,561h1v1h-1zM196,561h1v1h-1zM197,561h1v1h-1zM198,561h1v1h-1zM178,562h1v1h-1zM180,562h1v1h-1zM184,562h1v1h-1zM185,562h1v1h-1zM186,562h1v1h-1zM187,562h1v1h-1zM188,562h1v1h-1zM189,562h1v1h-1zM190,562h1v1h-1zM191,562h1v1h-1zM192,562h1v1h-1zM193,562h1v1h-1zM194,562h1v1h-1zM195,562h1v1h-1zM196,562h1v1h-1zM197,562h1v1h-1zM185,563h1v1h-1zM186,563h1v1h-1zM187,563h1v1h-1zM188,563h1v1h-1zM189,563h1v1h-1zM190,563h1v1h-1zM191,563h1v1h-1zM192,563h1v1h-1zM193,563h1v1h-1zM194,563h1v1h-1zM195,563h1v1h-1zM196,563h1v1h-1zM197,563h1v1h-1zM198,563h1v1h-1zM199,563h1v1h-1zM162,564h1v1h-1zM166,564h1v1h-1zM177,564h1v1h-1zM179,564h1v1h-1zM185,564h1v1h-1zM186,564h1v1h-1zM187,564h1v1h-1zM188,564h1v1h-1zM189,564h1v1h-1zM190,564h1v1h-1zM191,564h1v1h-1zM192,564h1v1h-1zM193,564h1v1h-1zM194,564h1v1h-1zM195,564h1v1h-1zM196,564h1v1h-1zM198,564h1v1h-1zM170,565h1v1h-1zM182,565h1v1h-1zM187,565h1v1h-1zM190,565h1v1h-1zM191,565h1v1h-1zM192,565h1v1h-1zM193,565h1v1h-1zM194,565h1v1h-1zM197,565h1v1h-1zM198,565h1v1h-1z" fill="#000" fill-opacity="1.0"/>
</g>
<rect x="183.3" y="515.6" width="21.099999999999994" height="21.899999999999977" fill="none" stroke="#000" stroke-width="2"/>
<text x="194.65000000000003" y="509.3" font-size="13" text-anchor="middle" font-weight="normal" >5.16</text>
<path d="M145.0,573.1H217.8V645.8" fill="none" stroke="#555" stroke-width="1"/>
<path d="M145.1,572.6V644.9H217.8" fill="none" stroke="#000" stroke-width="1.7"/>
<path d="M143.4,575.8h1.5 M143.4,581.0h1.5 M143.4,584.2h1.5 M143.4,588.0h1.5 M143.4,591.8h1.5 M143.4,595.6h1.5 M143.4,598.1h1.5 M143.4,602.7h1.5 M143.4,606.5h1.5 M143.4,611.1h1.5 M143.4,615.7h1.5 M143.4,620.3h1.5 M143.4,622.8h1.5 M143.4,626.6h1.5 M143.4,629.8h1.5 M143.4,633.6h1.5 M143.4,637.4h1.5 M143.4,641.2h1.5 M148.1,645.4v1.5 M153.3,645.4v1.5 M156.5,645.4v1.5 M159.7,645.4v1.5 M164.9,645.4v1.5 M168.7,645.4v1.5 M171.9,645.4v1.5 M174.4,645.4v1.5 M176.9,645.4v1.5 M179.4,645.4v1.5 M184.6,645.4v1.5 M188.4,645.4v1.5 M190.9,645.4v1.5 M193.4,645.4v1.5 M197.2,645.4v1.5 M200.4,645.4v1.5 M205.0,645.4v1.5 M209.6,645.4v1.5 M214.8,645.4v1.5" stroke="#000" stroke-width="1.3" fill="none"/>
<g filter="url(#soft)">
<path d="M196,589h1v1h-1zM194,590h1v1h-1zM196,591h1v1h-1zM185,592h1v1h-1zM195,592h1v1h-1zM199,593h1v1h-1zM187,594h1v1h-1zM192,594h1v1h-1zM195,594h1v1h-1zM186,595h1v1h-1zM190,595h1v1h-1zM191,595h1v1h-1zM179,596h1v1h-1zM194,596h1v1h-1zM192,597h1v1h-1zM193,597h1v1h-1zM195,597h1v1h-1zM197,597h1v1h-1zM201,597h1v1h-1zM195,598h1v1h-1zM196,598h1v1h-1zM197,598h1v1h-1zM202,598h1v1h-1zM186,599h1v1h-1zM188,599h1v1h-1zM191,599h1v1h-1zM194,599h1v1h-1zM196,599h1v1h-1zM197,599h1v1h-1zM186,600h1v1h-1zM189,600h1v1h-1zM190,600h1v1h-1zM191,600h1v1h-1zM197,600h1v1h-1zM195,601h1v1h-1zM203,601h1v1h-1zM187,602h1v1h-1zM191,602h1v1h-1zM198,602h1v1h-1zM188,603h1v1h-1zM189,603h1v1h-1zM195,603h1v1h-1zM197,603h1v1h-1zM189,604h1v1h-1zM192,604h1v1h-1zM196,604h1v1h-1zM197,604h1v1h-1zM200,604h1v1h-1zM202,604h1v1h-1zM189,605h1v1h-1zM190,605h1v1h-1zM191,605h1v1h-1zM192,605h1v1h-1zM196,605h1v1h-1zM198,605h1v1h-1zM199,605h1v1h-1zM203,605h1v1h-1zM184,606h1v1h-1zM186,606h1v1h-1zM190,606h1v1h-1zM193,606h1v1h-1zM195,606h1v1h-1zM183,607h1v1h-1zM191,607h1v1h-1zM199,607h1v1h-1zM201,607h1v1h-1zM189,608h1v1h-1zM195,608h1v1h-1zM196,608h1v1h-1zM199,608h1v1h-1zM203,608h1v1h-1zM182,609h1v1h-1zM189,609h1v1h-1zM193,609h1v1h-1zM195,609h1v1h-1zM196,609h1v1h-1zM197,609h1v1h-1zM199,609h1v1h-1zM176,610h1v1h-1zM183,610h1v1h-1zM185,610h1v1h-1zM190,610h1v1h-1zM191,610h1v1h-1zM192,610h1v1h-1zM195,610h1v1h-1zM174,611h1v1h-1zM187,611h1v1h-1zM188,611h1v1h-1zM189,611h1v1h-1zM190,611h1v1h-1zM191,611h1v1h-1zM194,611h1v1h-1zM200,611h1v1h-1zM166,612h1v1h-1zM190,612h1v1h-1zM193,612h1v1h-1zM195,612h1v1h-1zM211,612h1v1h-1zM161,613h1v1h-1zM168,613h1v1h-1zM171,613h1v1h-1zM184,613h1v1h-1zM185,613h1v1h-1zM191,613h1v1h-1zM193,613h1v1h-1zM194,613h1v1h-1zM196,613h1v1h-1zM197,613h1v1h-1zM199,613h1v1h-1zM201,613h1v1h-1zM208,613h1v1h-1zM166,614h1v1h-1zM168,614h1v1h-1zM187,614h1v1h-1zM188,614h1v1h-1zM191,614h1v1h-1zM198,614h1v1h-1zM211,614h1v1h-1zM173,615h1v1h-1zM183,615h1v1h-1zM187,615h1v1h-1zM188,615h1v1h-1zM189,615h1v1h-1zM190,615h1v1h-1zM192,615h1v1h-1zM193,615h1v1h-1zM196,615h1v1h-1zM203,615h1v1h-1zM173,616h1v1h-1zM179,616h1v1h-1zM180,616h1v1h-1zM186,616h1v1h-1zM189,616h1v1h-1zM191,616h1v1h-1zM193,616h1v1h-1zM195,616h1v1h-1zM196,616h1v1h-1zM154,617h1v1h-1zM165,617h1v1h-1zM167,617h1v1h-1zM169,617h1v1h-1zM171,617h1v1h-1zM182,617h1v1h-1zM188,617h1v1h-1zM190,617h1v1h-1zM191,617h1v1h-1zM192,617h1v1h-1zM193,617h1v1h-1zM194,617h1v1h-1zM199,617h1v1h-1zM202,617h1v1h-1zM159,618h1v1h-1zM167,618h1v1h-1zM172,618h1v1h-1zM177,618h1v1h-1zM178,618h1v1h-1zM187,618h1v1h-1zM188,618h1v1h-1zM192,618h1v1h-1zM194,618h1v1h-1zM198,618h1v1h-1zM199,618h1v1h-1zM200,618h1v1h-1zM148,619h1v1h-1zM158,619h1v1h-1zM163,619h1v1h-1zM166,619h1v1h-1zM169,619h1v1h-1zM172,619h1v1h-1zM173,619h1v1h-1zM174,619h1v1h-1zM177,619h1v1h-1zM179,619h1v1h-1zM181,619h1v1h-1zM186,619h1v1h-1zM193,619h1v1h-1zM198,619h1v1h-1zM199,619h1v1h-1zM201,619h1v1h-1zM152,620h1v1h-1zM161,620h1v1h-1zM167,620h1v1h-1zM175,620h1v1h-1zM178,620h1v1h-1zM181,620h1v1h-1zM182,620h1v1h-1zM186,620h1v1h-1zM190,620h1v1h-1zM198,620h1v1h-1zM200,620h1v1h-1zM152,621h1v1h-1zM157,621h1v1h-1zM166,621h1v1h-1zM170,621h1v1h-1zM171,621h1v1h-1zM174,621h1v1h-1zM175,621h1v1h-1zM176,621h1v1h-1zM178,621h1v1h-1zM181,621h1v1h-1zM184,621h1v1h-1zM191,621h1v1h-1zM195,621h1v1h-1zM200,621h1v1h-1zM204,621h1v1h-1zM208,621h1v1h-1zM151,622h1v1h-1zM154,622h1v1h-1zM163,622h1v1h-1zM175,622h1v1h-1zM178,622h1v1h-1zM180,622h1v1h-1zM182,622h1v1h-1zM183,622h1v1h-1zM186,622h1v1h-1zM200,622h1v1h-1zM158,623h1v1h-1zM159,623h1v1h-1zM177,623h1v1h-1zM180,623h1v1h-1zM182,623h1v1h-1zM188,623h1v1h-1zM194,623h1v1h-1zM197,623h1v1h-1zM199,623h1v1h-1zM203,623h1v1h-1zM147,624h1v1h-1zM152,624h1v1h-1zM158,624h1v1h-1zM162,624h1v1h-1zM168,624h1v1h-1zM169,624h1v1h-1zM171,624h1v1h-1zM172,624h1v1h-1zM177,624h1v1h-1zM179,624h1v1h-1zM180,624h1v1h-1zM181,624h1v1h-1zM191,624h1v1h-1zM197,624h1v1h-1zM154,625h1v1h-1zM155,625h1v1h-1zM157,625h1v1h-1zM158,625h1v1h-1zM161,625h1v1h-1zM171,625h1v1h-1zM174,625h1v1h-1zM176,625h1v1h-1zM178,625h1v1h-1zM180,625h1v1h-1zM182,625h1v1h-1zM185,625h1v1h-1zM186,625h1v1h-1zM192,625h1v1h-1zM147,626h1v1h-1zM148,626h1v1h-1zM150,626h1v1h-1zM155,626h1v1h-1zM156,626h1v1h-1zM160,626h1v1h-1zM166,626h1v1h-1zM170,626h1v1h-1zM178,626h1v1h-1zM179,626h1v1h-1zM182,626h1v1h-1zM200,626h1v1h-1zM202,626h1v1h-1zM147,627h1v1h-1zM148,627h1v1h-1zM152,627h1v1h-1zM155,627h1v1h-1zM159,627h1v1h-1zM164,627h1v1h-1zM165,627h1v1h-1zM166,627h1v1h-1zM171,627h1v1h-1zM174,627h1v1h-1zM175,627h1v1h-1zM177,627h1v1h-1zM180,627h1v1h-1zM182,627h1v1h-1zM187,627h1v1h-1zM199,627h1v1h-1zM148,628h1v1h-1zM150,628h1v1h-1zM153,628h1v1h-1zM155,628h1v1h-1zM160,628h1v1h-1zM161,628h1v1h-1zM167,628h1v1h-1zM171,628h1v1h-1zM183,628h1v1h-1zM185,628h1v1h-1zM202,628h1v1h-1zM204,628h1v1h-1zM209,628h1v1h-1zM150,629h1v1h-1zM152,629h1v1h-1zM154,629h1v1h-1zM160,629h1v1h-1zM165,629h1v1h-1zM167,629h1v1h-1zM173,629h1v1h-1zM174,629h1v1h-1zM178,629h1v1h-1zM179,629h1v1h-1zM181,629h1v1h-1zM185,629h1v1h-1zM201,629h1v1h-1zM206,629h1v1h-1zM147,630h1v1h-1zM153,630h1v1h-1zM159,630h1v1h-1zM160,630h1v1h-1zM161,630h1v1h-1zM164,630h1v1h-1zM172,630h1v1h-1zM174,630h1v1h-1zM175,630h1v1h-1zM176,630h1v1h-1zM177,630h1v1h-1zM182,630h1v1h-1zM184,630h1v1h-1zM197,630h1v1h-1zM205,630h1v1h-1zM148,631h1v1h-1zM149,631h1v1h-1zM151,631h1v1h-1zM152,631h1v1h-1zM153,631h1v1h-1zM154,631h1v1h-1zM162,631h1v1h-1zM165,631h1v1h-1zM166,631h1v1h-1zM167,631h1v1h-1zM168,631h1v1h-1zM171,631h1v1h-1zM174,631h1v1h-1zM175,631h1v1h-1zM204,631h1v1h-1zM149,632h1v1h-1zM151,632h1v1h-1zM156,632h1v1h-1zM158,632h1v1h-1zM160,632h1v1h-1zM163,632h1v1h-1zM165,632h1v1h-1zM167,632h1v1h-1zM169,632h1v1h-1zM170,632h1v1h-1zM172,632h1v1h-1zM179,632h1v1h-1zM185,632h1v1h-1zM186,632h1v1h-1zM204,632h1v1h-1zM148,633h1v1h-1zM152,633h1v1h-1zM155,633h1v1h-1zM156,633h1v1h-1zM157,633h1v1h-1zM158,633h1v1h-1zM163,633h1v1h-1zM165,633h1v1h-1zM166,633h1v1h-1zM172,633h1v1h-1zM173,633h1v1h-1zM174,633h1v1h-1zM177,633h1v1h-1zM179,633h1v1h-1zM180,633h1v1h-1zM183,633h1v1h-1zM184,633h1v1h-1zM199,633h1v1h-1zM148,634h1v1h-1zM149,634h1v1h-1zM150,634h1v1h-1zM152,634h1v1h-1zM155,634h1v1h-1zM156,634h1v1h-1zM158,634h1v1h-1zM161,634h1v1h-1zM164,634h1v1h-1zM165,634h1v1h-1zM167,634h1v1h-1zM170,634h1v1h-1zM172,634h1v1h-1zM176,634h1v1h-1zM177,634h1v1h-1zM181,634h1v1h-1zM182,634h1v1h-1zM207,634h1v1h-1zM208,634h1v1h-1zM149,635h1v1h-1zM152,635h1v1h-1zM153,635h1v1h-1zM157,635h1v1h-1zM164,635h1v1h-1zM166,635h1v1h-1zM167,635h1v1h-1zM169,635h1v1h-1zM170,635h1v1h-1zM175,635h1v1h-1zM176,635h1v1h-1zM179,635h1v1h-1zM203,635h1v1h-1zM206,635h1v1h-1zM152,636h1v1h-1zM154,636h1v1h-1zM158,636h1v1h-1zM160,636h1v1h-1zM170,636h1v1h-1zM171,636h1v1h-1zM175,636h1v1h-1zM179,636h1v1h-1zM180,636h1v1h-1zM181,636h1v1h-1zM201,636h1v1h-1zM150,637h1v1h-1zM152,637h1v1h-1zM153,637h1v1h-1zM155,637h1v1h-1zM157,637h1v1h-1zM159,637h1v1h-1zM163,637h1v1h-1zM164,637h1v1h-1zM165,637h1v1h-1zM167,637h1v1h-1zM168,637h1v1h-1zM173,637h1v1h-1zM175,637h1v1h-1zM176,637h1v1h-1zM178,637h1v1h-1zM179,637h1v1h-1zM183,637h1v1h-1zM204,637h1v1h-1zM207,637h1v1h-1zM208,637h1v1h-1zM147,638h1v1h-1zM150,638h1v1h-1zM158,638h1v1h-1zM159,638h1v1h-1zM162,638h1v1h-1zM167,638h1v1h-1zM169,638h1v1h-1zM177,638h1v1h-1zM183,638h1v1h-1zM199,638h1v1h-1zM201,638h1v1h-1zM202,638h1v1h-1zM205,638h1v1h-1zM208,638h1v1h-1zM150,639h1v1h-1zM154,639h1v1h-1zM155,639h1v1h-1zM157,639h1v1h-1zM158,639h1v1h-1zM161,639h1v1h-1zM165,639h1v1h-1zM166,639h1v1h-1zM171,639h1v1h-1zM175,639h1v1h-1zM178,639h1v1h-1zM180,639h1v1h-1zM182,639h1v1h-1zM202,639h1v1h-1zM205,639h1v1h-1zM150,640h1v1h-1zM152,640h1v1h-1zM153,640h1v1h-1zM156,640h1v1h-1zM157,640h1v1h-1zM158,640h1v1h-1zM164,640h1v1h-1zM166,640h1v1h-1zM167,640h1v1h-1zM174,640h1v1h-1zM180,640h1v1h-1zM181,640h1v1h-1zM182,640h1v1h-1zM184,640h1v1h-1zM201,640h1v1h-1zM210,640h1v1h-1zM148,641h1v1h-1zM151,641h1v1h-1zM153,641h1v1h-1zM165,641h1v1h-1zM168,641h1v1h-1zM171,641h1v1h-1zM172,641h1v1h-1zM175,641h1v1h-1zM177,641h1v1h-1zM178,641h1v1h-1zM182,641h1v1h-1zM183,641h1v1h-1zM200,641h1v1h-1zM201,641h1v1h-1zM202,641h1v1h-1zM207,641h1v1h-1zM150,642h1v1h-1zM154,642h1v1h-1zM157,642h1v1h-1zM160,642h1v1h-1zM162,642h1v1h-1zM167,642h1v1h-1zM171,642h1v1h-1zM175,642h1v1h-1zM176,642h1v1h-1zM178,642h1v1h-1zM181,642h1v1h-1zM183,642h1v1h-1zM186,642h1v1h-1zM200,642h1v1h-1zM201,642h1v1h-1zM208,642h1v1h-1zM148,643h1v1h-1zM150,643h1v1h-1zM152,643h1v1h-1zM153,643h1v1h-1zM154,643h1v1h-1zM156,643h1v1h-1zM159,643h1v1h-1zM162,643h1v1h-1zM165,643h1v1h-1zM174,643h1v1h-1zM175,643h1v1h-1zM177,643h1v1h-1zM182,643h1v1h-1zM183,643h1v1h-1zM184,643h1v1h-1z" fill="#000" fill-opacity="0.5"/>
<path d="M193,596h1v1h-1zM194,597h1v1h-1zM196,597h1v1h-1zM191,598h1v1h-1zM189,599h1v1h-1zM192,599h1v1h-1zM192,600h1v1h-1zM193,600h1v1h-1zM199,601h1v1h-1zM195,602h1v1h-1zM199,602h1v1h-1zM196,603h1v1h-1zM194,604h1v1h-1zM191,606h1v1h-1zM194,606h1v1h-1zM197,606h1v1h-1zM195,607h1v1h-1zM196,607h1v1h-1zM198,607h1v1h-1zM191,608h1v1h-1zM190,609h1v1h-1zM191,609h1v1h-1zM198,609h1v1h-1zM194,610h1v1h-1zM196,610h1v1h-1zM193,611h1v1h-1zM196,611h1v1h-1zM189,612h1v1h-1zM188,613h1v1h-1zM189,614h1v1h-1zM192,614h1v1h-1zM193,614h1v1h-1zM194,614h1v1h-1zM171,615h1v1h-1zM176,615h1v1h-1zM182,615h1v1h-1zM185,615h1v1h-1zM194,615h1v1h-1zM184,616h1v1h-1zM194,616h1v1h-1zM186,617h1v1h-1zM195,617h1v1h-1zM196,617h1v1h-1zM179,618h1v1h-1zM185,618h1v1h-1zM190,618h1v1h-1zM193,618h1v1h-1zM197,618h1v1h-1zM184,619h1v1h-1zM189,619h1v1h-1zM191,619h1v1h-1zM192,619h1v1h-1zM196,619h1v1h-1zM200,619h1v1h-1zM170,620h1v1h-1zM173,620h1v1h-1zM180,620h1v1h-1zM188,620h1v1h-1zM194,620h1v1h-1zM195,620h1v1h-1zM196,620h1v1h-1zM150,621h1v1h-1zM172,621h1v1h-1zM187,621h1v1h-1zM189,621h1v1h-1zM194,621h1v1h-1zM199,621h1v1h-1zM174,622h1v1h-1zM191,622h1v1h-1zM196,622h1v1h-1zM169,623h1v1h-1zM183,623h1v1h-1zM186,623h1v1h-1zM187,623h1v1h-1zM190,623h1v1h-1zM192,623h1v1h-1zM196,623h1v1h-1zM201,623h1v1h-1zM176,624h1v1h-1zM187,624h1v1h-1zM188,624h1v1h-1zM189,624h1v1h-1zM195,624h1v1h-1zM163,625h1v1h-1zM167,625h1v1h-1zM168,625h1v1h-1zM169,625h1v1h-1zM184,625h1v1h-1zM197,625h1v1h-1zM199,625h1v1h-1zM151,626h1v1h-1zM163,626h1v1h-1zM168,626h1v1h-1zM173,626h1v1h-1zM181,626h1v1h-1zM185,626h1v1h-1zM198,626h1v1h-1zM169,627h1v1h-1zM178,627h1v1h-1zM181,627h1v1h-1zM192,627h1v1h-1zM156,628h1v1h-1zM169,628h1v1h-1zM177,628h1v1h-1zM180,628h1v1h-1zM198,628h1v1h-1zM199,628h1v1h-1zM157,629h1v1h-1zM166,629h1v1h-1zM177,629h1v1h-1zM183,629h1v1h-1zM184,629h1v1h-1zM200,629h1v1h-1zM154,630h1v1h-1zM165,630h1v1h-1zM170,630h1v1h-1zM179,630h1v1h-1zM155,631h1v1h-1zM159,631h1v1h-1zM164,631h1v1h-1zM172,631h1v1h-1zM179,631h1v1h-1zM184,631h1v1h-1zM187,631h1v1h-1zM200,631h1v1h-1zM201,631h1v1h-1zM210,631h1v1h-1zM152,632h1v1h-1zM161,632h1v1h-1zM173,632h1v1h-1zM178,632h1v1h-1zM183,632h1v1h-1zM202,632h1v1h-1zM150,633h1v1h-1zM161,633h1v1h-1zM176,633h1v1h-1zM182,633h1v1h-1zM185,633h1v1h-1zM200,633h1v1h-1zM151,634h1v1h-1zM173,634h1v1h-1zM178,634h1v1h-1zM184,634h1v1h-1zM186,634h1v1h-1zM199,634h1v1h-1zM201,634h1v1h-1zM174,635h1v1h-1zM183,635h1v1h-1zM184,635h1v1h-1zM185,635h1v1h-1zM186,635h1v1h-1zM150,636h1v1h-1zM161,636h1v1h-1zM162,636h1v1h-1zM164,636h1v1h-1zM172,636h1v1h-1zM173,636h1v1h-1zM174,636h1v1h-1zM200,636h1v1h-1zM154,637h1v1h-1zM158,637h1v1h-1zM169,637h1v1h-1zM171,637h1v1h-1zM180,637h1v1h-1zM181,637h1v1h-1zM182,637h1v1h-1zM186,637h1v1h-1zM201,637h1v1h-1zM202,637h1v1h-1zM168,638h1v1h-1zM178,638h1v1h-1zM184,638h1v1h-1zM185,638h1v1h-1zM200,638h1v1h-1zM206,638h1v1h-1zM151,639h1v1h-1zM152,639h1v1h-1zM156,639h1v1h-1zM159,639h1v1h-1zM168,639h1v1h-1zM172,639h1v1h-1zM177,639h1v1h-1zM184,639h1v1h-1zM187,639h1v1h-1zM201,639h1v1h-1zM154,640h1v1h-1zM155,640h1v1h-1zM163,640h1v1h-1zM177,640h1v1h-1zM178,640h1v1h-1zM185,640h1v1h-1zM199,640h1v1h-1zM200,640h1v1h-1zM207,640h1v1h-1zM150,641h1v1h-1zM161,641h1v1h-1zM184,641h1v1h-1zM151,642h1v1h-1zM159,642h1v1h-1zM172,642h1v1h-1zM182,642h1v1h-1zM206,642h1v1h-1zM157,643h1v1h-1zM192,643h1v1h-1z" fill="#000" fill-opacity="0.8"/>
<path d="M197,601h1v1h-1zM194,602h1v1h-1zM192,603h1v1h-1zM194,603h1v1h-1zM194,605h1v1h-1zM195,605h1v1h-1zM192,607h1v1h-1zM193,610h1v1h-1zM197,610h1v1h-1zM199,611h1v1h-1zM192,612h1v1h-1zM194,612h1v1h-1zM185,616h1v1h-1zM184,618h1v1h-1zM171,619h1v1h-1zM172,620h1v1h-1zM191,620h1v1h-1zM192,620h1v1h-1zM193,620h1v1h-1zM188,621h1v1h-1zM190,621h1v1h-1zM192,621h1v1h-1zM193,621h1v1h-1zM196,621h1v1h-1zM198,621h1v1h-1zM187,622h1v1h-1zM188,622h1v1h-1zM189,622h1v1h-1zM190,622h1v1h-1zM192,622h1v1h-1zM193,622h1v1h-1zM194,622h1v1h-1zM195,622h1v1h-1zM197,622h1v1h-1zM189,623h1v1h-1zM191,623h1v1h-1zM193,623h1v1h-1zM195,623h1v1h-1zM198,623h1v1h-1zM186,624h1v1h-1zM190,624h1v1h-1zM192,624h1v1h-1zM193,624h1v1h-1zM194,624h1v1h-1zM196,624h1v1h-1zM200,624h1v1h-1zM183,625h1v1h-1zM187,625h1v1h-1zM188,625h1v1h-1zM189,625h1v1h-1zM190,625h1v1h-1zM191,625h1v1h-1zM193,625h1v1h-1zM194,625h1v1h-1zM195,625h1v1h-1zM196,625h1v1h-1zM200,625h1v1h-1zM177,626h1v1h-1zM184,626h1v1h-1zM186,626h1v1h-1zM187,626h1v1h-1zM188,626h1v1h-1zM189,626h1v1h-1zM190,626h1v1h-1zM191,626h1v1h-1zM192,626h1v1h-1zM193,626h1v1h-1zM194,626h1v1h-1zM195,626h1v1h-1zM196,626h1v1h-1zM197,626h1v1h-1zM184,627h1v1h-1zM186,627h1v1h-1zM188,627h1v1h-1zM189,627h1v1h-1zM190,627h1v1h-1zM191,627h1v1h-1zM193,627h1v1h-1zM194,627h1v1h-1zM195,627h1v1h-1zM196,627h1v1h-1zM197,627h1v1h-1zM198,627h1v1h-1zM186,628h1v1h-1zM187,628h1v1h-1zM188,628h1v1h-1zM189,628h1v1h-1zM190,628h1v1h-1zM191,628h1v1h-1zM192,628h1v1h-1zM193,628h1v1h-1zM194,628h1v1h-1zM195,628h1v1h-1zM196,628h1v1h-1zM197,628h1v1h-1zM159,629h1v1h-1zM186,629h1v1h-1zM187,629h1v1h-1zM188,629h1v1h-1zM189,629h1v1h-1zM190,629h1v1h-1zM191,629h1v1h-1zM192,629h1v1h-1zM193,629h1v1h-1zM194,629h1v1h-1zM195,629h1v1h-1zM196,629h1v1h-1zM197,629h1v1h-1zM198,629h1v1h-1zM199,629h1v1h-1zM167,630h1v1h-1zM178,630h1v1h-1zM185,630h1v1h-1zM186,630h1v1h-1zM187,630h1v1h-1zM188,630h1v1h-1zM189,630h1v1h-1zM190,630h1v1h-1zM191,630h1v1h-1zM192,630h1v1h-1zM193,630h1v1h-1zM194,630h1v1h-1zM195,630h1v1h-1zM196,630h1v1h-1zM198,630h1v1h-1zM199,630h1v1h-1zM200,630h1v1h-1zM206,630h1v1h-1zM157,631h1v1h-1zM173,631h1v1h-1zM186,631h1v1h-1zM188,631h1v1h-1zM189,631h1v1h-1zM190,631h1v1h-1zM191,631h1v1h-1zM192,631h1v1h-1zM193,631h1v1h-1zM194,631h1v1h-1zM195,631h1v1h-1zM196,631h1v1h-1zM197,631h1v1h-1zM198,631h1v1h-1zM199,631h1v1h-1zM181,632h1v1h-1zM187,632h1v1h-1zM188,632h1v1h-1zM189,632h1v1h-1zM190,632h1v1h-1zM191,632h1v1h-1zM192,632h1v1h-1zM193,632h1v1h-1zM194,632h1v1h-1zM195,632h1v1h-1zM196,632h1v1h-1zM197,632h1v1h-1zM198,632h1v1h-1zM199,632h1v1h-1zM201,632h1v1h-1zM187,633h1v1h-1zM188,633h1v1h-1zM189,633h1v1h-1zM190,633h1v1h-1zM191,633h1v1h-1zM192,633h1v1h-1zM193,633h1v1h-1zM194,633h1v1h-1zM195,633h1v1h-1zM196,633h1v1h-1zM197,633h1v1h-1zM198,633h1v1h-1zM163,634h1v1h-1zM174,634h1v1h-1zM185,634h1v1h-1zM187,634h1v1h-1zM188,634h1v1h-1zM189,634h1v1h-1zM190,634h1v1h-1zM191,634h1v1h-1zM192,634h1v1h-1zM193,634h1v1h-1zM194,634h1v1h-1zM195,634h1v1h-1zM196,634h1v1h-1zM197,634h1v1h-1zM198,634h1v1h-1zM200,634h1v1h-1zM187,635h1v1h-1zM188,635h1v1h-1zM189,635h1v1h-1zM190,635h1v1h-1zM191,635h1v1h-1zM192,635h1v1h-1zM193,635h1v1h-1zM194,635h1v1h-1zM195,635h1v1h-1zM196,635h1v1h-1zM197,635h1v1h-1zM198,635h1v1h-1zM200,635h1v1h-1zM184,636h1v1h-1zM185,636h1v1h-1zM186,636h1v1h-1zM187,636h1v1h-1zM188,636h1v1h-1zM189,636h1v1h-1zM190,636h1v1h-1zM191,636h1v1h-1zM192,636h1v1h-1zM193,636h1v1h-1zM194,636h1v1h-1zM195,636h1v1h-1zM196,636h1v1h-1zM197,636h1v1h-1zM198,636h1v1h-1zM199,636h1v1h-1zM202,636h1v1h-1zM184,637h1v1h-1zM185,637h1v1h-1zM187,637h1v1h-1zM188,637h1v1h-1zM189,637h1v1h-1zM190,637h1v1h-1zM191,637h1v1h-1zM192,637h1v1h-1zM193,637h1v1h-1zM194,637h1v1h-1zM195,637h1v1h-1zM196,637h1v1h-1zM197,637h1v1h-1zM198,637h1v1h-1zM199,637h1v1h-1zM200,637h1v1h-1zM157,638h1v1h-1zM171,638h1v1h-1zM179,638h1v1h-1zM186,638h1v1h-1zM187,638h1v1h-1zM188,638h1v1h-1zM189,638h1v1h-1zM190,638h1v1h-1zM191,638h1v1h-1zM192,638h1v1h-1zM193,638h1v1h-1zM194,638h1v1h-1zM195,638h1v1h-1zM196,638h1v1h-1zM197,638h1v1h-1zM198,638h1v1h-1zM185,639h1v1h-1zM186,639h1v1h-1zM188,639h1v1h-1zM189,639h1v1h-1zM190,639h1v1h-1zM191,639h1v1h-1zM192,639h1v1h-1zM193,639h1v1h-1zM194,639h1v1h-1zM195,639h1v1h-1zM196,639h1v1h-1zM197,639h1v1h-1zM198,639h1v1h-1zM199,639h1v1h-1zM159,640h1v1h-1zM183,640h1v1h-1zM186,640h1v1h-1zM187,640h1v1h-1zM188,640h1v1h-1zM189,640h1v1h-1zM190,640h1v1h-1zM191,640h1v1h-1zM192,640h1v1h-1zM193,640h1v1h-1zM194,640h1v1h-1zM195,640h1v1h-1zM196,640h1v1h-1zM197,640h1v1h-1zM198,640h1v1h-1zM169,641h1v1h-1zM174,641h1v1h-1zM185,641h1v1h-1zM186,641h1v1h-1zM187,641h1v1h-1zM188,641h1v1h-1zM189,641h1v1h-1zM190,641h1v1h-1zM191,641h1v1h-1zM192,641h1v1h-1zM193,641h1v1h-1zM194,641h1v1h-1zM195,641h1v1h-1zM196,641h1v1h-1zM197,641h1v1h-1zM198,641h1v1h-1zM199,641h1v1h-1zM169,642h1v1h-1zM173,642h1v1h-1zM185,642h1v1h-1zM187,642h1v1h-1zM188,642h1v1h-1zM189,642h1v1h-1zM190,642h1v1h-1zM191,642h1v1h-1zM192,642h1v1h-1zM193,642h1v1h-1zM194,642h1v1h-1zM195,642h1v1h-1zM196,642h1v1h-1zM197,642h1v1h-1zM198,642h1v1h-1zM149,643h1v1h-1zM186,643h1v1h-1zM187,643h1v1h-1zM188,643h1v1h-1zM189,643h1v1h-1zM190,643h1v1h-1zM191,643h1v1h-1zM193,643h1v1h-1zM194,643h1v1h-1zM195,643h1v1h-1zM196,643h1v1h-1zM197,643h1v1h-1zM198,643h1v1h-1z" fill="#000" fill-opacity="1.0"/>
</g>
<rect x="183.6" y="592.6" width="22.0" height="24.199999999999932" fill="none" stroke="#000" stroke-width="2"/>
<text x="195.4" y="586.3000000000001" font-size="13" text-anchor="middle" font-weight="normal" >9.00</text>
</svg>
</body></html>
